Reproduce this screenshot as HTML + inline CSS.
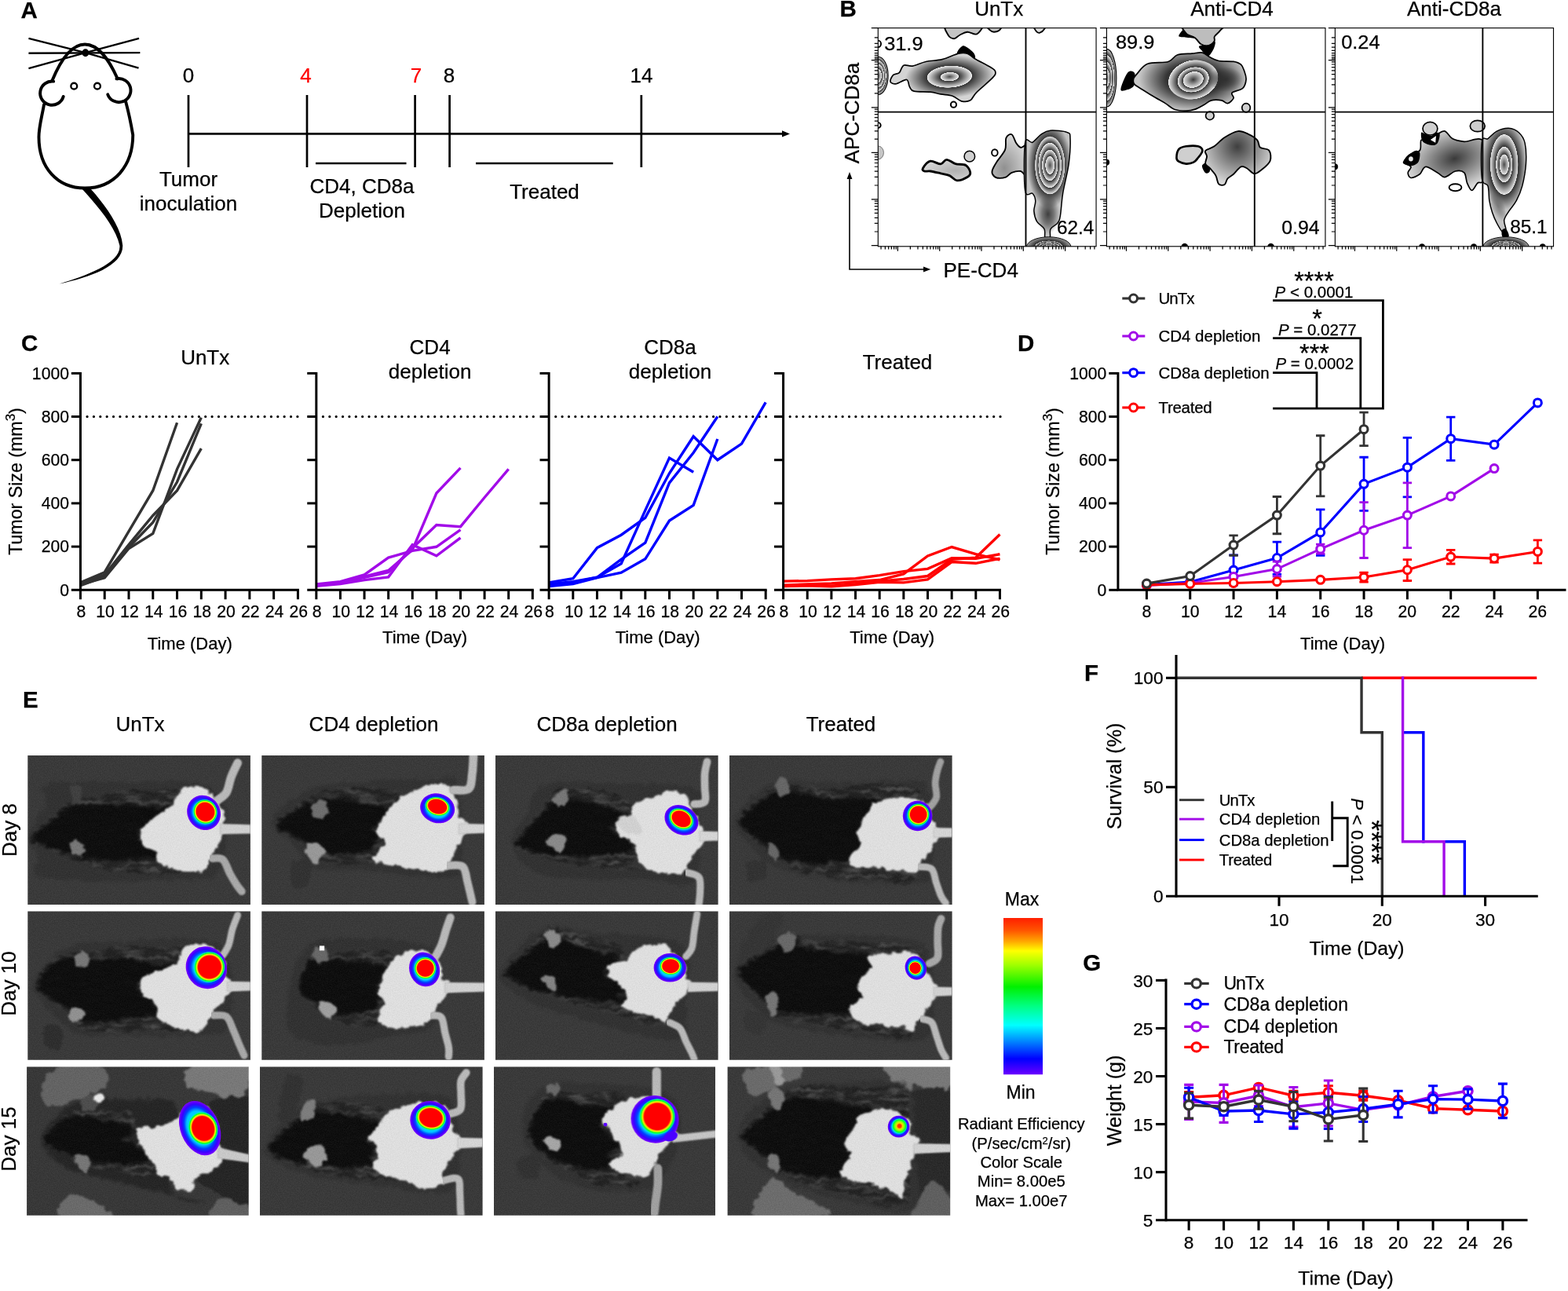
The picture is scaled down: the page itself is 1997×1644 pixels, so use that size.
<!DOCTYPE html>
<html lang="en">
<head>
<meta charset="utf-8">
<title>Figure</title>
<style>
html,body{margin:0;padding:0;background:#fff;}
body{width:1997px;height:1644px;overflow:hidden;font-family:"Liberation Sans",sans-serif;}
svg{display:block;position:absolute;left:0;top:0;}
text{font-family:"Liberation Sans",sans-serif;fill:#000;stroke:#000;stroke-width:0.25px;}
.b{font-weight:bold;}
.i{font-style:italic;}
.m{text-anchor:middle;}
.e{text-anchor:end;}
</style>
</head>
<body>
<svg width="1997" height="1644" viewBox="0 0 1997 1644">
<g id="panelA">
<text class="b" x="26.5" y="23" font-size="29.5">A</text>
<g transform="scale(0.2604)" fill="none" stroke="#000" stroke-linecap="round" stroke-linejoin="round">
<g stroke-width="9" stroke-linecap="butt"><path d="M140,188 L418,258 L678,333"/><path d="M140,335 L418,258 L680,188"/><path d="M140,260 L685,258"/></g>
<path stroke-width="15" d="M255,395 C300,285 350,217 415,217 C480,217 530,285 575,385"/>
<path stroke-width="15" d="M262,398 A58,58 0 1 0 310,472"/>
<path stroke-width="15" d="M570,385 A58,58 0 1 1 527,462"/>
<path stroke-width="15" d="M215,512 C205,570 190,620 190,670 C190,820 280,920 415,920 C560,920 650,810 650,660 C640,600 628,545 615,497"/>
<circle cx="362" cy="421" r="15" stroke-width="9"/><circle cx="476" cy="421" r="15" stroke-width="9"/>
<ellipse cx="418" cy="258" rx="17" ry="19" fill="#000" stroke="none"/>
<path fill="#000" stroke="none" d="M402,925 C480,1010 565,1110 585,1200 C595,1285 420,1350 290,1388 C440,1356 603,1300 600,1200 C592,1110 520,1010 442,922 Z"/>
</g>
<g stroke="#000" stroke-width="2.7" fill="none">
<path d="M240,170.4 H998"/>
<path d="M240,121 V213"/>
<path d="M391,121 V213"/>
<path d="M528.6,121 V213"/>
<path d="M572.6,121 V213"/>
<path d="M816.8,121 V213"/>
<path d="M402,208 H517.5"/><path d="M606,208 H780.7"/>
</g>
<path d="M996,166.2 L1006,170.4 L996,174.6 Z" fill="#000"/>
<text class="m" x="240" y="104.5" font-size="26">0</text>
<text class="m" x="389.5" y="104.5" font-size="26" style="fill:#ff0000;stroke:#ff0000">4</text>
<text class="m" x="530" y="104.5" font-size="26" style="fill:#ff0000;stroke:#ff0000">7</text>
<text class="m" x="572" y="104.5" font-size="26">8</text>
<text class="m" x="817" y="104.5" font-size="26">14</text>
<text class="m" x="240" y="236.5" font-size="26">Tumor</text>
<text class="m" x="240" y="267.5" font-size="26">inoculation</text>
<text class="m" x="461" y="245.5" font-size="26">CD4, CD8a</text>
<text class="m" x="461" y="277" font-size="26">Depletion</text>
<text class="m" x="693.5" y="252.5" font-size="26">Treated</text>
</g>
<g id="panelB">
<defs><radialGradient id="zb1" gradientUnits="userSpaceOnUse" cx="0" cy="0" r="1" gradientTransform="translate(97 405) rotate(0) scale(68 128)"><stop offset="0" stop-color="#4a4a4a"/><stop offset="0.338" stop-color="#e0e0e0"/><stop offset="0.35" stop-color="#f6f6f6"/><stop offset="0.362" stop-color="#363636"/><stop offset="0.588" stop-color="#e0e0e0"/><stop offset="0.6" stop-color="#f6f6f6"/><stop offset="0.612" stop-color="#363636"/><stop offset="0.788" stop-color="#e0e0e0"/><stop offset="0.8" stop-color="#f6f6f6"/><stop offset="0.812" stop-color="#363636"/><stop offset="1" stop-color="#d4d4d4"/></radialGradient><radialGradient id="zb2" gradientUnits="userSpaceOnUse" cx="0" cy="0" r="1" gradientTransform="translate(580 412) rotate(-3) scale(300 145)"><stop offset="0" stop-color="#4a4a4a"/><stop offset="0.188" stop-color="#e0e0e0"/><stop offset="0.2" stop-color="#f6f6f6"/><stop offset="0.212" stop-color="#363636"/><stop offset="0.488" stop-color="#e0e0e0"/><stop offset="0.5" stop-color="#f6f6f6"/><stop offset="0.512" stop-color="#363636"/><stop offset="1" stop-color="#d4d4d4"/></radialGradient><radialGradient id="zb3" gradientUnits="userSpaceOnUse" cx="0" cy="0" r="1" gradientTransform="translate(620 1045) rotate(0) scale(230 80)"><stop offset="0" stop-color="#b0b0b0"/><stop offset="1" stop-color="#d8d8d8"/></radialGradient><radialGradient id="zb4" gradientUnits="userSpaceOnUse" cx="0" cy="0" r="1" gradientTransform="translate(950 1030) rotate(0) scale(170 230)"><stop offset="0" stop-color="#909090"/><stop offset="1" stop-color="#d8d8d8"/></radialGradient><radialGradient id="zb5" gradientUnits="userSpaceOnUse" cx="0" cy="0" r="1" gradientTransform="translate(1255 1010) rotate(0) scale(150 290)"><stop offset="0" stop-color="#383838"/><stop offset="0.66" stop-color="#383838"/><stop offset="1" stop-color="#c4c4c4"/></radialGradient><radialGradient id="zb6" gradientUnits="userSpaceOnUse" cx="0" cy="0" r="1" gradientTransform="translate(1258 1010) rotate(0) scale(102 198)"><stop offset="0" stop-color="#505050"/><stop offset="0.288" stop-color="#e0e0e0"/><stop offset="0.3" stop-color="#f6f6f6"/><stop offset="0.312" stop-color="#363636"/><stop offset="0.508" stop-color="#e0e0e0"/><stop offset="0.52" stop-color="#f6f6f6"/><stop offset="0.532" stop-color="#363636"/><stop offset="0.748" stop-color="#e0e0e0"/><stop offset="0.76" stop-color="#f6f6f6"/><stop offset="0.772" stop-color="#363636"/><stop offset="0.973" stop-color="#e0e0e0"/><stop offset="0.985" stop-color="#f6f6f6"/><stop offset="0.997" stop-color="#363636"/><stop offset="1" stop-color="#383838"/></radialGradient><radialGradient id="fd7" gradientUnits="userSpaceOnUse" cx="0" cy="0" r="1" gradientTransform="translate(1245 1340) rotate(0) scale(78 135)"><stop offset="0" stop-color="#303030" stop-opacity="0.9"/><stop offset="0.5" stop-color="#303030" stop-opacity="0.54"/><stop offset="1" stop-color="#303030" stop-opacity="0"/></radialGradient><radialGradient id="zb8" gradientUnits="userSpaceOnUse" cx="0" cy="0" r="1" gradientTransform="translate(1250 1562) rotate(0) scale(150 68)"><stop offset="0" stop-color="#444"/><stop offset="0.188" stop-color="#b0b0b0"/><stop offset="0.2" stop-color="#f6f6f6"/><stop offset="0.212" stop-color="#2c2c2c"/><stop offset="0.328" stop-color="#b0b0b0"/><stop offset="0.34" stop-color="#f6f6f6"/><stop offset="0.352" stop-color="#2c2c2c"/><stop offset="0.468" stop-color="#b0b0b0"/><stop offset="0.48" stop-color="#f6f6f6"/><stop offset="0.492" stop-color="#2c2c2c"/><stop offset="0.608" stop-color="#b0b0b0"/><stop offset="0.62" stop-color="#f6f6f6"/><stop offset="0.632" stop-color="#2c2c2c"/><stop offset="1" stop-color="#999"/></radialGradient><radialGradient id="zb9" gradientUnits="userSpaceOnUse" cx="0" cy="0" r="1" gradientTransform="translate(103 420) rotate(0) scale(66 195)"><stop offset="0" stop-color="#4a4a4a"/><stop offset="0.288" stop-color="#e0e0e0"/><stop offset="0.3" stop-color="#f6f6f6"/><stop offset="0.312" stop-color="#363636"/><stop offset="0.538" stop-color="#e0e0e0"/><stop offset="0.55" stop-color="#f6f6f6"/><stop offset="0.562" stop-color="#363636"/><stop offset="0.768" stop-color="#e0e0e0"/><stop offset="0.78" stop-color="#f6f6f6"/><stop offset="0.792" stop-color="#363636"/><stop offset="1" stop-color="#d4d4d4"/></radialGradient><radialGradient id="zb10" gradientUnits="userSpaceOnUse" cx="0" cy="0" r="1" gradientTransform="translate(690 430) rotate(0) scale(370 215)"><stop offset="0" stop-color="#343434"/><stop offset="0.5" stop-color="#343434"/><stop offset="1" stop-color="#c8c8c8"/></radialGradient><radialGradient id="zb11" gradientUnits="userSpaceOnUse" cx="0" cy="0" r="1" gradientTransform="translate(688 432) rotate(-8) scale(172 132)"><stop offset="0" stop-color="#3a3a3a"/><stop offset="0.388" stop-color="#e0e0e0"/><stop offset="0.4" stop-color="#f6f6f6"/><stop offset="0.412" stop-color="#363636"/><stop offset="0.608" stop-color="#e0e0e0"/><stop offset="0.62" stop-color="#f6f6f6"/><stop offset="0.632" stop-color="#363636"/><stop offset="0.973" stop-color="#e0e0e0"/><stop offset="0.985" stop-color="#f6f6f6"/><stop offset="0.997" stop-color="#363636"/><stop offset="1" stop-color="#343434"/></radialGradient><radialGradient id="fd12" gradientUnits="userSpaceOnUse" cx="0" cy="0" r="1" gradientTransform="translate(905 430) rotate(0) scale(120 85)"><stop offset="0" stop-color="#2c2c2c" stop-opacity="0.9"/><stop offset="0.5" stop-color="#2c2c2c" stop-opacity="0.54"/><stop offset="1" stop-color="#2c2c2c" stop-opacity="0"/></radialGradient><radialGradient id="zb13" gradientUnits="userSpaceOnUse" cx="0" cy="0" r="1" gradientTransform="translate(985 885) rotate(0) scale(260 260)"><stop offset="0" stop-color="#3f3f3f"/><stop offset="1" stop-color="#d8d8d8"/></radialGradient><radialGradient id="zb14" gradientUnits="userSpaceOnUse" cx="0" cy="0" r="1" gradientTransform="translate(915 965) rotate(-15) scale(330 210)"><stop offset="0" stop-color="#3a3a3a"/><stop offset="1" stop-color="#d8d8d8"/></radialGradient><radialGradient id="zb15" gradientUnits="userSpaceOnUse" cx="0" cy="0" r="1" gradientTransform="translate(1250 1010) rotate(0) scale(150 300)"><stop offset="0" stop-color="#383838"/><stop offset="0.66" stop-color="#383838"/><stop offset="1" stop-color="#c4c4c4"/></radialGradient><radialGradient id="zb16" gradientUnits="userSpaceOnUse" cx="0" cy="0" r="1" gradientTransform="translate(1250 1005) rotate(0) scale(95 205)"><stop offset="0" stop-color="#4a4a4a"/><stop offset="0.318" stop-color="#e0e0e0"/><stop offset="0.33" stop-color="#f6f6f6"/><stop offset="0.342" stop-color="#363636"/><stop offset="0.568" stop-color="#e0e0e0"/><stop offset="0.58" stop-color="#f6f6f6"/><stop offset="0.592" stop-color="#363636"/><stop offset="0.973" stop-color="#e0e0e0"/><stop offset="0.985" stop-color="#f6f6f6"/><stop offset="0.997" stop-color="#363636"/><stop offset="1" stop-color="#383838"/></radialGradient><radialGradient id="fd17" gradientUnits="userSpaceOnUse" cx="0" cy="0" r="1" gradientTransform="translate(1210 1290) rotate(-12) scale(45 110)"><stop offset="0" stop-color="#505050" stop-opacity="0.6"/><stop offset="0.5" stop-color="#505050" stop-opacity="0.36"/><stop offset="1" stop-color="#505050" stop-opacity="0"/></radialGradient><radialGradient id="zb18" gradientUnits="userSpaceOnUse" cx="0" cy="0" r="1" gradientTransform="translate(1262 1562) rotate(0) scale(155 68)"><stop offset="0" stop-color="#444"/><stop offset="0.188" stop-color="#b0b0b0"/><stop offset="0.2" stop-color="#f6f6f6"/><stop offset="0.212" stop-color="#2c2c2c"/><stop offset="0.328" stop-color="#b0b0b0"/><stop offset="0.34" stop-color="#f6f6f6"/><stop offset="0.352" stop-color="#2c2c2c"/><stop offset="0.468" stop-color="#b0b0b0"/><stop offset="0.48" stop-color="#f6f6f6"/><stop offset="0.492" stop-color="#2c2c2c"/><stop offset="0.608" stop-color="#b0b0b0"/><stop offset="0.62" stop-color="#f6f6f6"/><stop offset="0.632" stop-color="#2c2c2c"/><stop offset="1" stop-color="#999"/></radialGradient></defs>
<g transform="translate(1100 20) scale(0.18857)">
<clipPath id="bc0"><rect x="97" y="83" width="1473" height="1475"/></clipPath>
<g clip-path="url(#bc0)">
<ellipse cx="97" cy="405" rx="68" ry="128" fill="url(#zb1)" stroke="#000" stroke-width="6"/>
<ellipse cx="97" cy="190" rx="20" ry="22" fill="#fff" stroke="#000" stroke-width="10"/>
<ellipse cx="97" cy="740" rx="18" ry="18" fill="#fff" stroke="#000" stroke-width="10"/>
<ellipse cx="97" cy="925" rx="38" ry="45" fill="#c8c8c8" stroke="#555" stroke-width="4"/>
<path d="M565,60 C526.67,71.67 562.5,114.17 570,130 C577.5,145.83 596.67,155 610,155 C623.33,155 635,137.5 650,130 C665,122.5 681.67,110.83 700,110 C718.33,109.17 743.33,129.5 760,125 C776.67,120.5 793.33,93.83 800,83 C806.67,72.17 839.17,63.83 800,60 C760.83,56.17 603.33,48.33 565,60Z" fill="#c4c4c4" stroke="#000" stroke-width="10" stroke-linejoin="round"/>
<path d="M830,60 C817.5,65.83 841.67,86.67 850,95 C858.33,103.33 868.33,110 880,110 C891.67,110 912.5,103.33 920,95 C927.5,86.67 940,65.83 925,60 C910,54.17 842.5,54.17 830,60Z" fill="#c4c4c4" stroke="#000" stroke-width="10" stroke-linejoin="round"/>
<path d="M1150,60 C1140,67.5 1158.33,95.83 1165,105 C1171.67,114.17 1180.83,117.5 1190,115 C1199.17,112.5 1214.17,99.17 1220,90 C1225.83,80.83 1236.67,65 1225,60 C1213.33,55 1160,52.5 1150,60Z" fill="#dddddd" stroke="#000" stroke-width="10" stroke-linejoin="round"/>
<path d="M630,260 C624.17,244.17 653.33,212.5 665,205 C676.67,197.5 686.67,206.67 700,215 C713.33,223.33 736.67,241.67 745,255 C753.33,268.33 757.5,287.5 750,295 C742.5,302.5 720,305.83 700,300 C680,294.17 635.83,275.83 630,260Z" fill="#000"/>
<path d="M180,445 C176.67,435 190,410 200,400 C210,390 228.33,395.83 240,385 C251.67,374.17 255,342.5 270,335 C285,327.5 305,344.17 330,340 C355,335.83 386.67,317.5 420,310 C453.33,302.5 493.33,304.17 530,295 C566.67,285.83 611.67,261.67 640,255 C668.33,248.33 681.67,249.17 700,255 C718.33,260.83 723.33,274.17 750,290 C776.67,305.83 836.67,335 860,350 C883.33,365 888.33,368.33 890,380 C891.67,391.67 891.67,396.67 870,420 C848.33,443.33 785,494.67 760,520 C735,545.33 736.67,562.5 720,572 C703.33,581.5 680,582 660,577 C640,572 623.33,549.83 600,542 C576.67,534.17 545,534.5 520,530 C495,525.5 480,518.33 450,515 C420,511.67 363.33,515.83 340,510 C316.67,504.17 318.33,493 310,480 C301.67,467 305,435.33 290,432 C275,428.67 238.33,457.83 220,460 C201.67,462.17 183.33,455 180,445Z" fill="url(#zb2)" stroke="#000" stroke-width="9" stroke-linejoin="round"/>
<ellipse cx="607" cy="600" rx="19" ry="19" fill="#fff" stroke="#000" stroke-width="11"/>
<path d="M400,1030 C406.67,1018.67 430,986.67 450,982 C470,977.33 501.67,1003.67 520,1002 C538.33,1000.33 543.33,972.33 560,972 C576.67,971.67 598.33,993.67 620,1000 C641.67,1006.33 673.33,1000 690,1010 C706.67,1020 718.33,1046.67 720,1060 C721.67,1073.33 715,1081.17 700,1090 C685,1098.83 650,1114.67 630,1113 C610,1111.33 598.33,1088 580,1080 C561.67,1072 541.67,1070 520,1065 C498.33,1060 468.33,1052.5 450,1050 C431.67,1047.5 418.33,1053.33 410,1050 C401.67,1046.67 393.33,1041.33 400,1030Z" fill="url(#zb3)" stroke="#000" stroke-width="15" stroke-linejoin="round"/>
<ellipse cx="715" cy="950" rx="36" ry="36" fill="#d0d0d0" stroke="#000" stroke-width="8"/>
<ellipse cx="885" cy="925" rx="20" ry="22" fill="#fff" stroke="#000" stroke-width="10"/>
<path d="M870,1040 C875,1025.83 885.83,1007.5 900,985 C914.17,962.5 944.67,931.67 955,905 C965.33,878.33 954.5,842.17 962,825 C969.5,807.83 988.67,796.17 1000,802 C1011.33,807.83 1020,845.33 1030,860 C1040,874.67 1048.33,885 1060,890 C1071.67,895 1093.33,860 1100,890 C1106.67,920 1106.67,1043.33 1100,1070 C1093.33,1096.67 1076.67,1051.67 1060,1050 C1043.33,1048.33 1016.67,1053.33 1000,1060 C983.33,1066.67 976.67,1084.17 960,1090 C943.33,1095.83 915,1098.33 900,1095 C885,1091.67 875,1079.17 870,1070 C865,1060.83 865,1054.17 870,1040Z" fill="url(#zb4)" stroke="#000" stroke-width="10" stroke-linejoin="round"/>
<path d="M1090,860 C1098.33,805.83 1121.67,865 1140,855 C1158.33,845 1180,813.33 1200,800 C1220,786.67 1230.83,777 1260,775 C1289.17,773 1352.5,778.83 1375,788 C1397.5,797.17 1393.33,794.67 1395,830 C1396.67,865.33 1393.33,938.33 1385,1000 C1376.67,1061.67 1354.5,1141.67 1345,1200 C1335.5,1258.33 1333.83,1316.67 1328,1350 C1322.17,1383.33 1321,1385 1310,1400 C1299,1415 1270.67,1423.33 1262,1440 C1253.33,1456.67 1264.17,1490 1258,1500 C1251.83,1510 1231.33,1510 1225,1500 C1218.67,1490 1229.17,1458.33 1220,1440 C1210.83,1421.67 1181.67,1410 1170,1390 C1158.33,1370 1151.67,1343.33 1150,1320 C1148.33,1296.67 1161.67,1270 1160,1250 C1158.33,1230 1151.67,1211.67 1140,1200 C1128.33,1188.33 1098.33,1236.67 1090,1180 C1081.67,1123.33 1081.67,914.17 1090,860Z" fill="url(#zb5)" stroke="#000" stroke-width="8" stroke-linejoin="round"/>
<ellipse cx="1258" cy="1010" rx="102" ry="195" fill="url(#zb6)"/>
<ellipse cx="1245" cy="1340" rx="78" ry="135" fill="url(#fd7)" transform="rotate(0 1245 1340)"/>
<ellipse cx="1250" cy="1562" rx="150" ry="68" fill="url(#zb8)" stroke="#000" stroke-width="5"/>
</g>
<rect x="97" y="83" width="1473" height="1475" fill="none" stroke="#000" stroke-width="6"/>
<path d="M1095,83 V1558 M97,650 H1570" stroke="#000" stroke-width="10" fill="none"/>
<path d="M97,83 h-45 M97,148.1 h-24 M97,187.16 h-24 M97,213.2 h-24 M97,234.9 h-24 M97,252.26 h-24 M97,267.45 h-24 M97,280.47 h-24 M97,291.32 h-24 M97,300 h-45 M97,524 h-24 M97,466.4 h-24 M97,428 h-24 M97,396 h-24 M97,370.4 h-24 M97,348 h-24 M97,328.8 h-24 M97,312.8 h-24 M97,620 h-45 M97,833.5 h-24 M97,778.6 h-24 M97,742 h-24 M97,711.5 h-24 M97,687.1 h-24 M97,665.75 h-24 M97,647.45 h-24 M97,632.2 h-24 M97,925 h-45 M97,1145.5 h-24 M97,1088.8 h-24 M97,1051 h-24 M97,1019.5 h-24 M97,994.3 h-24 M97,972.25 h-24 M97,953.35 h-24 M97,937.6 h-24 M97,1240 h-45 M97,1458.4 h-24 M97,1402.24 h-24 M97,1364.8 h-24 M97,1333.6 h-24 M97,1308.64 h-24 M97,1286.8 h-24 M97,1268.08 h-24 M97,1252.48 h-24 M97,1552 h-45 M230,1558 v32 M116.92,1558 v20 M145.19,1558 v20 M167.81,1558 v20 M187.59,1558 v20 M204.56,1558 v20 M218.69,1558 v20 M512.7,1558 v32 M314.81,1558 v20 M365.7,1558 v20 M399.62,1558 v20 M427.89,1558 v20 M450.51,1558 v20 M470.3,1558 v20 M487.26,1558 v20 M501.39,1558 v20 M795.4,1558 v32 M597.51,1558 v20 M648.4,1558 v20 M682.32,1558 v20 M710.59,1558 v20 M733.21,1558 v20 M753,1558 v20 M769.96,1558 v20 M784.09,1558 v20 M1078.1,1558 v32 M880.21,1558 v20 M931.1,1558 v20 M965.02,1558 v20 M993.29,1558 v20 M1015.91,1558 v20 M1035.69,1558 v20 M1052.66,1558 v20 M1066.79,1558 v20 M1360.8,1558 v32 M1162.91,1558 v20 M1213.8,1558 v20 M1247.72,1558 v20 M1275.99,1558 v20 M1298.61,1558 v20 M1318.39,1558 v20 M1335.36,1558 v20 M1349.49,1558 v20 M1445.61,1558 v20 M1496.5,1558 v20 M1530.42,1558 v20 M1558.69,1558 v20" stroke="#000" stroke-width="6.5" fill="none"/>
</g>
<g transform="translate(1390 20) scale(0.18857)">
<clipPath id="bc1"><rect x="103" y="83" width="1477" height="1475"/></clipPath>
<g clip-path="url(#bc1)">
<ellipse cx="103" cy="420" rx="66" ry="195" fill="url(#zb9)" stroke="#000" stroke-width="6"/>
<ellipse cx="103" cy="990" rx="18" ry="20" fill="#000" stroke="#000" stroke-width="4"/>
<path d="M590,135 C591.67,125 620.83,87.5 630,85 C639.17,82.5 633.33,109.17 645,120 C656.67,130.83 704.17,145.83 700,150 C695.83,154.17 638.33,147.5 620,145 C601.67,142.5 588.33,145 590,135Z" fill="#000"/>
<path d="M630,60 C590,70 628.33,105 640,120 C651.67,135 683.33,138 700,150 C716.67,162 725,183.33 740,192 C755,200.67 775,205.33 790,202 C805,198.67 823,182.33 830,172 C837,161.67 825.33,152 832,140 C838.67,128 862,113.33 870,100 C878,86.67 920,66.67 880,60 C840,53.33 670,50 630,60Z" fill="#bdbdbd" stroke="#000" stroke-width="10" stroke-linejoin="round"/>
<path d="M728,205 C735.5,198.83 772.17,203 790,198 C807.83,193 829.17,170.5 835,175 C840.83,179.5 833.33,208.33 825,225 C816.67,241.67 798.33,273.33 785,275 C771.67,276.67 754.5,246.67 745,235 C735.5,223.33 720.5,211.17 728,205Z" fill="#000"/>
<path d="M198,497 C198.83,477.83 229.33,403.17 245,385 C260.67,366.83 284.83,373.83 292,388 C299.17,402.17 296.67,451.33 288,470 C279.33,488.67 255,495.5 240,500 C225,504.5 197.17,516.17 198,497Z" fill="#000"/>
<path d="M285,425 C288.33,413 294.17,406.67 310,390 C325.83,373.33 345,338.33 380,325 C415,311.67 486.67,320 520,310 C553.33,300 553.33,274.17 580,265 C606.67,255.83 651.67,257.5 680,255 C708.33,252.5 730,245.83 750,250 C770,254.17 781.67,270.83 800,280 C818.33,289.17 833.33,300 860,305 C886.67,310 935,305.83 960,310 C985,314.17 998,319.67 1010,330 C1022,340.33 1026.17,355.33 1032,372 C1037.83,388.67 1046.67,410.33 1045,430 C1043.33,449.67 1037.83,475 1022,490 C1006.17,505 960.33,508.83 950,520 C939.67,531.17 965,545 960,557 C955,569 933.33,589.5 920,592 C906.67,594.5 898.33,575.33 880,572 C861.67,568.67 830,567 810,572 C790,577 778.33,592 760,602 C741.67,612 720,625.33 700,632 C680,638.67 663.33,642 640,642 C616.67,642 583.33,640.33 560,632 C536.67,623.67 521.67,605.33 500,592 C478.33,578.67 455,567 430,552 C405,537 373.33,517 350,502 C326.67,487 300.83,474.83 290,462 C279.17,449.17 281.67,437 285,425Z" fill="url(#zb10)" stroke="#000" stroke-width="9" stroke-linejoin="round"/>
<ellipse cx="688" cy="432" rx="172" ry="132" fill="url(#zb11)" transform="rotate(-8 688 432)"/>
<ellipse cx="905" cy="430" rx="120" ry="85" fill="url(#fd12)" transform="rotate(0 905 430)"/>
<ellipse cx="800" cy="675" rx="28" ry="28" fill="#d0d0d0" stroke="#000" stroke-width="9"/>
<ellipse cx="1045" cy="622" rx="28" ry="30" fill="#d0d0d0" stroke="#000" stroke-width="9"/>
<path d="M575,960 C575,946.17 579.17,915 590,902 C600.83,889 618.33,885.33 640,882 C661.67,878.67 701.67,877 720,882 C738.33,887 750,899 750,912 C750,925 730,947 720,960 C710,973 703.33,983.33 690,990 C676.67,996.67 656.67,1000.83 640,1000 C623.33,999.17 600.83,991.67 590,985 C579.17,978.33 575,973.83 575,960Z" fill="#cfcfcf" stroke="#000" stroke-width="14" stroke-linejoin="round"/>
<path d="M748,1012 C751.33,1000.33 781.33,985.67 790,992 C798.67,998.33 803.33,1038.33 800,1050 C796.67,1061.67 778.67,1068.33 770,1062 C761.33,1055.67 744.67,1023.67 748,1012Z" fill="#000"/>
<path d="M770,912 C778.33,900.67 808.33,897 830,882 C851.67,867 873.33,839 900,822 C926.67,805 963.33,783.67 990,780 C1016.67,776.33 1038.33,790 1060,800 C1081.67,810 1106.67,825 1120,840 C1133.33,855 1126.67,878.33 1140,890 C1153.33,901.67 1188.83,895 1200,910 C1211.17,925 1215.33,958.33 1207,980 C1198.67,1001.67 1167.83,1025.5 1150,1040 C1132.17,1054.5 1116.67,1068.67 1100,1067 C1083.33,1065.33 1065,1037.83 1050,1030 C1035,1022.17 1025,1013.33 1010,1020 C995,1026.67 975,1056.67 960,1070 C945,1083.33 930,1088.33 920,1100 C910,1111.67 910,1133.83 900,1140 C890,1146.17 870,1147 860,1137 C850,1127 850,1097.83 840,1080 C830,1062.17 811.67,1043.33 800,1030 C788.33,1016.67 773.33,1013.33 770,1000 C766.67,986.67 780,964.67 780,950 C780,935.33 761.67,923.33 770,912Z" fill="url(#zb13)" stroke="#000" stroke-width="10" stroke-linejoin="round"/>
<ellipse cx="630" cy="1560" rx="22" ry="22" fill="#000" stroke="#000" stroke-width="2"/>
<ellipse cx="1212" cy="1560" rx="22" ry="22" fill="#000" stroke="#000" stroke-width="2"/>
</g>
<rect x="103" y="83" width="1477" height="1475" fill="none" stroke="#000" stroke-width="6"/>
<path d="M1102,83 V1558 M103,650 H1580" stroke="#000" stroke-width="10" fill="none"/>
<path d="M103,83 h-45 M103,148.1 h-24 M103,187.16 h-24 M103,213.2 h-24 M103,234.9 h-24 M103,252.26 h-24 M103,267.45 h-24 M103,280.47 h-24 M103,291.32 h-24 M103,300 h-45 M103,524 h-24 M103,466.4 h-24 M103,428 h-24 M103,396 h-24 M103,370.4 h-24 M103,348 h-24 M103,328.8 h-24 M103,312.8 h-24 M103,620 h-45 M103,833.5 h-24 M103,778.6 h-24 M103,742 h-24 M103,711.5 h-24 M103,687.1 h-24 M103,665.75 h-24 M103,647.45 h-24 M103,632.2 h-24 M103,925 h-45 M103,1145.5 h-24 M103,1088.8 h-24 M103,1051 h-24 M103,1019.5 h-24 M103,994.3 h-24 M103,972.25 h-24 M103,953.35 h-24 M103,937.6 h-24 M103,1240 h-45 M103,1458.4 h-24 M103,1402.24 h-24 M103,1364.8 h-24 M103,1333.6 h-24 M103,1308.64 h-24 M103,1286.8 h-24 M103,1268.08 h-24 M103,1252.48 h-24 M103,1552 h-45 M236,1558 v32 M122.92,1558 v20 M151.19,1558 v20 M173.81,1558 v20 M193.59,1558 v20 M210.56,1558 v20 M224.69,1558 v20 M518.7,1558 v32 M320.81,1558 v20 M371.7,1558 v20 M405.62,1558 v20 M433.89,1558 v20 M456.51,1558 v20 M476.3,1558 v20 M493.26,1558 v20 M507.39,1558 v20 M801.4,1558 v32 M603.51,1558 v20 M654.4,1558 v20 M688.32,1558 v20 M716.59,1558 v20 M739.21,1558 v20 M759,1558 v20 M775.96,1558 v20 M790.09,1558 v20 M1084.1,1558 v32 M886.21,1558 v20 M937.1,1558 v20 M971.02,1558 v20 M999.29,1558 v20 M1021.91,1558 v20 M1041.69,1558 v20 M1058.66,1558 v20 M1072.79,1558 v20 M1366.8,1558 v32 M1168.91,1558 v20 M1219.8,1558 v20 M1253.72,1558 v20 M1281.99,1558 v20 M1304.61,1558 v20 M1324.39,1558 v20 M1341.36,1558 v20 M1355.49,1558 v20 M1451.61,1558 v20 M1502.5,1558 v20 M1536.42,1558 v20 M1564.69,1558 v20" stroke="#000" stroke-width="6.5" fill="none"/>
</g>
<g transform="translate(1680 20) scale(0.18857)">
<clipPath id="bc2"><rect x="108" y="83" width="1475" height="1475"/></clipPath>
<g clip-path="url(#bc2)">
<ellipse cx="108" cy="1020" rx="18" ry="20" fill="#000" stroke="#000" stroke-width="4"/>
<path d="M575,990 C573.33,976.67 592.5,953.33 610,940 C627.5,926.67 666.67,926.67 680,910 C693.33,893.33 680,850 690,840 C700,830 721.67,856.67 740,850 C758.33,843.33 781.67,811.67 800,800 C818.33,788.33 833.33,775 850,780 C866.67,785 878.33,818.33 900,830 C921.67,841.67 945,846.67 980,850 C1015,853.33 1088.33,808.33 1110,850 C1131.67,891.67 1116.67,1053.33 1110,1100 C1103.33,1146.67 1083,1116.67 1070,1130 C1057,1143.33 1043.67,1180 1032,1180 C1020.33,1180 1008.67,1150 1000,1130 C991.33,1110 993.33,1073.33 980,1060 C966.67,1046.67 941.67,1045 920,1050 C898.33,1055 870,1088.33 850,1090 C830,1091.67 821.67,1071.67 800,1060 C778.33,1048.33 740,1018.33 720,1020 C700,1021.67 696.67,1057.5 680,1070 C663.33,1082.5 633.33,1096.67 620,1095 C606.67,1093.33 600,1072.5 600,1060 C600,1047.5 624.17,1031.67 620,1020 C615.83,1008.33 576.67,1003.33 575,990Z" fill="url(#zb14)" stroke="#000" stroke-width="9" stroke-linejoin="round"/>
<path d="M566,992 C565.17,980.83 586,958.33 600,945 C614,931.67 636.67,915.33 650,912 C663.33,908.67 676.33,912.83 680,925 C683.67,937.17 678.67,970.83 672,985 C665.33,999.17 651.17,1005.5 640,1010 C628.83,1014.5 617.33,1015 605,1012 C592.67,1009 566.83,1003.17 566,992Z" fill="#000"/>
<ellipse cx="620" cy="967" rx="15" ry="17" fill="#e8e8e8" stroke="#000" stroke-width="0"/>
<path d="M690,790 C686.67,798.33 688.33,835.83 700,850 C711.67,864.17 743.33,873.33 760,875 C776.67,876.67 790.83,872.5 800,860 C809.17,847.5 816.67,811.67 815,800 C813.33,788.33 799.17,788.33 790,790 C780.83,791.67 771.67,808.33 760,810 C748.33,811.67 731.67,803.33 720,800 C708.33,796.67 693.33,781.67 690,790Z" fill="#000"/>
<ellipse cx="750" cy="762" rx="50" ry="44" fill="#cfcfcf" stroke="#000" stroke-width="9"/>
<path d="M752,838 L790,812 L786,858 Z" fill="#fff"/>
<ellipse cx="1070" cy="745" rx="50" ry="38" fill="#cccccc" stroke="#000" stroke-width="9"/>
<ellipse cx="920" cy="1160" rx="42" ry="24" fill="#fff" stroke="#000" stroke-width="10"/>
<path d="M1100,850 C1106.67,805 1123.33,841.67 1140,830 C1156.67,818.33 1176.67,791.67 1200,780 C1223.33,768.33 1255,758.33 1280,760 C1305,761.67 1331.67,773.33 1350,790 C1368.33,806.67 1382.17,825 1390,860 C1397.83,895 1400,951.67 1397,1000 C1394,1048.33 1382.83,1108.33 1372,1150 C1361.17,1191.67 1347,1221.67 1332,1250 C1317,1278.33 1295.67,1298.33 1282,1320 C1268.33,1341.67 1253.33,1359.17 1250,1380 C1246.67,1400.83 1263.67,1431.33 1262,1445 C1260.33,1458.67 1250.33,1469.5 1240,1462 C1229.67,1454.5 1211.67,1422 1200,1400 C1188.33,1378 1178.33,1355 1170,1330 C1161.67,1305 1155,1280 1150,1250 C1145,1220 1148.33,1175 1140,1150 C1131.67,1125 1106.67,1150 1100,1100 C1093.33,1050 1093.33,895 1100,850Z" fill="url(#zb15)" stroke="#000" stroke-width="8" stroke-linejoin="round"/>
<ellipse cx="1250" cy="1005" rx="95" ry="205" fill="url(#zb16)"/>
<ellipse cx="1210" cy="1290" rx="45" ry="110" fill="url(#fd17)" transform="rotate(-12 1210 1290)"/>
<path d="M1235,1450 C1238.67,1440.83 1254.17,1433.33 1262,1440 C1269.83,1446.67 1285.67,1480.83 1282,1490 C1278.33,1499.17 1247.83,1501.67 1240,1495 C1232.17,1488.33 1231.33,1459.17 1235,1450Z" fill="#000"/>
<ellipse cx="1262" cy="1562" rx="155" ry="68" fill="url(#zb18)" stroke="#000" stroke-width="5"/>
<ellipse cx="695" cy="1560" rx="20" ry="20" fill="#000" stroke="#000" stroke-width="2"/>
<ellipse cx="1045" cy="1560" rx="20" ry="20" fill="#000" stroke="#000" stroke-width="2"/>
<ellipse cx="1510" cy="1560" rx="20" ry="20" fill="#000" stroke="#000" stroke-width="2"/>
</g>
<rect x="108" y="83" width="1475" height="1475" fill="none" stroke="#000" stroke-width="6"/>
<path d="M1105,83 V1558 M108,650 H1583" stroke="#000" stroke-width="10" fill="none"/>
<path d="M108,83 h-45 M108,148.1 h-24 M108,187.16 h-24 M108,213.2 h-24 M108,234.9 h-24 M108,252.26 h-24 M108,267.45 h-24 M108,280.47 h-24 M108,291.32 h-24 M108,300 h-45 M108,524 h-24 M108,466.4 h-24 M108,428 h-24 M108,396 h-24 M108,370.4 h-24 M108,348 h-24 M108,328.8 h-24 M108,312.8 h-24 M108,620 h-45 M108,833.5 h-24 M108,778.6 h-24 M108,742 h-24 M108,711.5 h-24 M108,687.1 h-24 M108,665.75 h-24 M108,647.45 h-24 M108,632.2 h-24 M108,925 h-45 M108,1145.5 h-24 M108,1088.8 h-24 M108,1051 h-24 M108,1019.5 h-24 M108,994.3 h-24 M108,972.25 h-24 M108,953.35 h-24 M108,937.6 h-24 M108,1240 h-45 M108,1458.4 h-24 M108,1402.24 h-24 M108,1364.8 h-24 M108,1333.6 h-24 M108,1308.64 h-24 M108,1286.8 h-24 M108,1268.08 h-24 M108,1252.48 h-24 M108,1552 h-45 M241,1558 v32 M127.92,1558 v20 M156.19,1558 v20 M178.81,1558 v20 M198.59,1558 v20 M215.56,1558 v20 M229.69,1558 v20 M523.7,1558 v32 M325.81,1558 v20 M376.7,1558 v20 M410.62,1558 v20 M438.89,1558 v20 M461.51,1558 v20 M481.3,1558 v20 M498.26,1558 v20 M512.39,1558 v20 M806.4,1558 v32 M608.51,1558 v20 M659.4,1558 v20 M693.32,1558 v20 M721.59,1558 v20 M744.21,1558 v20 M764,1558 v20 M780.96,1558 v20 M795.09,1558 v20 M1089.1,1558 v32 M891.21,1558 v20 M942.1,1558 v20 M976.02,1558 v20 M1004.29,1558 v20 M1026.91,1558 v20 M1046.69,1558 v20 M1063.66,1558 v20 M1077.79,1558 v20 M1371.8,1558 v32 M1173.91,1558 v20 M1224.8,1558 v20 M1258.72,1558 v20 M1286.99,1558 v20 M1309.61,1558 v20 M1329.39,1558 v20 M1346.36,1558 v20 M1360.49,1558 v20 M1456.61,1558 v20 M1507.5,1558 v20 M1541.42,1558 v20 M1569.69,1558 v20" stroke="#000" stroke-width="6.5" fill="none"/>
</g>
<text x="1126.2" y="64.3" font-size="23" textLength="49.3" lengthAdjust="spacingAndGlyphs">31.9</text>
<text x="1346" y="298.1" font-size="23" textLength="47.3" lengthAdjust="spacingAndGlyphs">62.4</text>
<text x="1421" y="61.5" font-size="23" textLength="49.3" lengthAdjust="spacingAndGlyphs">89.9</text>
<text x="1632.2" y="298.1" font-size="23" textLength="48.3" lengthAdjust="spacingAndGlyphs">0.94</text>
<text x="1708.2" y="61.5" font-size="23" textLength="49.3" lengthAdjust="spacingAndGlyphs">0.24</text>
<text x="1923.2" y="297.3" font-size="23" textLength="47.3" lengthAdjust="spacingAndGlyphs">85.1</text>
<text class="b" x="1069.5" y="21.3" font-size="29.5">B</text>
<text class="m" x="1272.2" y="19.5" font-size="26">UnTx</text>
<text class="m" x="1569" y="19.5" font-size="26">Anti-CD4</text>
<text class="m" x="1852" y="19.5" font-size="26">Anti-CD8a</text>
<text class="m" x="1093.8" y="144" font-size="26" transform="rotate(-90 1093.8 144)">APC-CD8a</text>
<text x="1201.5" y="353" font-size="26">PE-CD4</text>
<path d="M1082,226 V343 H1178" fill="none" stroke="#000" stroke-width="1.6"/>
<path d="M1078.6,228 L1082,219 L1085.4,228 Z M1176,339.6 L1185.3,343 L1176,346.4 Z" fill="#000"/>
</g>
<g id="panelC">
<text class="b" x="27" y="447" font-size="29.5">C</text>
<path d="M111.06,530.56 H379.4" stroke="#000" stroke-width="3.3" stroke-linecap="round" stroke-dasharray="0 8.37" fill="none"/>
<path d="M102.46,741.84 L133.23,728.7 L164.01,676.6 L194.78,624.71 L225.55,538.23" fill="none" stroke="#333333" stroke-width="3.4" stroke-linejoin="miter"/>
<path d="M102.46,744.47 L133.23,735.71 L164.01,698.49 L194.78,679.44 L225.55,597.34 L256.32,531.66" fill="none" stroke="#333333" stroke-width="3.4" stroke-linejoin="miter"/>
<path d="M102.46,745.56 L133.23,734.4 L164.01,696.96 L194.78,665.21 L225.55,613.76 L256.32,539.32" fill="none" stroke="#333333" stroke-width="3.4" stroke-linejoin="miter"/>
<path d="M102.46,743.15 L133.23,731.99 L164.01,693.67 L194.78,656.45 L225.55,624.71 L256.32,571.07" fill="none" stroke="#333333" stroke-width="3.4" stroke-linejoin="miter"/>
<path d="M102.46,475.47 V751.25 H379.41" fill="none" stroke="#000" stroke-width="3.0" stroke-linecap="square"/>
<path d="M90.86,751.25 L102.46,751.25" stroke="#000" stroke-width="3.0"/>
<text class="e" x="88" y="758.55" font-size="21.2">0</text>
<path d="M90.86,696.08 L102.46,696.08" stroke="#000" stroke-width="3.0"/>
<text class="e" x="88" y="703.38" font-size="21.2">200</text>
<path d="M90.86,640.91 L102.46,640.91" stroke="#000" stroke-width="3.0"/>
<text class="e" x="88" y="648.21" font-size="21.2">400</text>
<path d="M90.86,585.74 L102.46,585.74" stroke="#000" stroke-width="3.0"/>
<text class="e" x="88" y="593.04" font-size="21.2">600</text>
<path d="M90.86,530.56 L102.46,530.56" stroke="#000" stroke-width="3.0"/>
<text class="e" x="88" y="537.86" font-size="21.2">800</text>
<path d="M90.86,475.39 L102.46,475.39" stroke="#000" stroke-width="3.0"/>
<text class="e" x="88" y="482.69" font-size="21.2">1000</text>
<path d="M102.46,751.25 L102.46,763.25" stroke="#000" stroke-width="3.0"/>
<text class="m" x="103.36" y="786" font-size="21.2">8</text>
<path d="M133.23,751.25 L133.23,763.25" stroke="#000" stroke-width="3.0"/>
<text class="m" x="134.13" y="786" font-size="21.2">10</text>
<path d="M164.01,751.25 L164.01,763.25" stroke="#000" stroke-width="3.0"/>
<text class="m" x="164.91" y="786" font-size="21.2">12</text>
<path d="M194.78,751.25 L194.78,763.25" stroke="#000" stroke-width="3.0"/>
<text class="m" x="195.68" y="786" font-size="21.2">14</text>
<path d="M225.55,751.25 L225.55,763.25" stroke="#000" stroke-width="3.0"/>
<text class="m" x="226.45" y="786" font-size="21.2">16</text>
<path d="M256.32,751.25 L256.32,763.25" stroke="#000" stroke-width="3.0"/>
<text class="m" x="257.22" y="786" font-size="21.2">18</text>
<path d="M287.09,751.25 L287.09,763.25" stroke="#000" stroke-width="3.0"/>
<text class="m" x="287.99" y="786" font-size="21.2">20</text>
<path d="M317.87,751.25 L317.87,763.25" stroke="#000" stroke-width="3.0"/>
<text class="m" x="318.77" y="786" font-size="21.2">22</text>
<path d="M348.64,751.25 L348.64,763.25" stroke="#000" stroke-width="3.0"/>
<text class="m" x="349.54" y="786" font-size="21.2">24</text>
<path d="M379.41,751.25 L379.41,763.25" stroke="#000" stroke-width="3.0"/>
<text class="m" x="380.31" y="786" font-size="21.2">26</text>
<path d="M411.44,530.56 H679.78" stroke="#000" stroke-width="3.3" stroke-linecap="round" stroke-dasharray="0 8.37" fill="none"/>
<path d="M402.84,744.03 L433.44,740.74 L464.05,731.99 L494.66,710.09 L525.27,701.34 L555.87,696.3 L586.48,674.63" fill="none" stroke="#a20be8" stroke-width="3.4" stroke-linejoin="miter"/>
<path d="M402.84,746.22 L433.44,743.59 L464.05,738.56 L494.66,734.83 L525.27,693.67 L555.87,707.9 L586.48,684.92" fill="none" stroke="#a20be8" stroke-width="3.4" stroke-linejoin="miter"/>
<path d="M402.84,745.12 L433.44,741.84 L464.05,734.18 L494.66,726.51 L525.27,700.24 L555.87,627.99 L586.48,595.81" fill="none" stroke="#a20be8" stroke-width="3.4" stroke-linejoin="miter"/>
<path d="M402.84,745.56 L433.44,742.28 L464.05,735.27 L494.66,728.7 L525.27,698.05 L555.87,668.49 L586.48,670.68 L617.09,633.46 L647.7,597.34" fill="none" stroke="#a20be8" stroke-width="3.4" stroke-linejoin="miter"/>
<path d="M402.84,475.47 V751.25 H678.3" fill="none" stroke="#000" stroke-width="3.0" stroke-linecap="square"/>
<path d="M391.24,751.25 L402.84,751.25" stroke="#000" stroke-width="3.0"/>
<path d="M391.24,696.08 L402.84,696.08" stroke="#000" stroke-width="3.0"/>
<path d="M391.24,640.91 L402.84,640.91" stroke="#000" stroke-width="3.0"/>
<path d="M391.24,585.74 L402.84,585.74" stroke="#000" stroke-width="3.0"/>
<path d="M391.24,530.56 L402.84,530.56" stroke="#000" stroke-width="3.0"/>
<path d="M391.24,475.39 L402.84,475.39" stroke="#000" stroke-width="3.0"/>
<path d="M402.84,751.25 L402.84,763.25" stroke="#000" stroke-width="3.0"/>
<text class="m" x="403.74" y="786" font-size="21.2">8</text>
<path d="M433.44,751.25 L433.44,763.25" stroke="#000" stroke-width="3.0"/>
<text class="m" x="434.34" y="786" font-size="21.2">10</text>
<path d="M464.05,751.25 L464.05,763.25" stroke="#000" stroke-width="3.0"/>
<text class="m" x="464.95" y="786" font-size="21.2">12</text>
<path d="M494.66,751.25 L494.66,763.25" stroke="#000" stroke-width="3.0"/>
<text class="m" x="495.56" y="786" font-size="21.2">14</text>
<path d="M525.27,751.25 L525.27,763.25" stroke="#000" stroke-width="3.0"/>
<text class="m" x="526.17" y="786" font-size="21.2">16</text>
<path d="M555.87,751.25 L555.87,763.25" stroke="#000" stroke-width="3.0"/>
<text class="m" x="556.77" y="786" font-size="21.2">18</text>
<path d="M586.48,751.25 L586.48,763.25" stroke="#000" stroke-width="3.0"/>
<text class="m" x="587.38" y="786" font-size="21.2">20</text>
<path d="M617.09,751.25 L617.09,763.25" stroke="#000" stroke-width="3.0"/>
<text class="m" x="617.99" y="786" font-size="21.2">22</text>
<path d="M647.7,751.25 L647.7,763.25" stroke="#000" stroke-width="3.0"/>
<text class="m" x="648.6" y="786" font-size="21.2">24</text>
<path d="M678.3,751.25 L678.3,763.25" stroke="#000" stroke-width="3.0"/>
<text class="m" x="679.2" y="786" font-size="21.2">26</text>
<path d="M707.71,530.56 H976.05" stroke="#000" stroke-width="3.3" stroke-linecap="round" stroke-dasharray="0 8.37" fill="none"/>
<path d="M699.11,741.84 L729.79,736.8 L760.46,697.61 L791.13,681.19 L821.81,659.3 L852.48,602.81 L883.15,555.74 L913.83,585.74 L944.5,565.16 L975.17,512.39" fill="none" stroke="#0000ff" stroke-width="3.4" stroke-linejoin="miter"/>
<path d="M699.11,745.12 L729.79,741.84 L760.46,735.27 L791.13,717.76 L821.81,649.89 L852.48,583.11 L883.15,601.28" fill="none" stroke="#0000ff" stroke-width="3.4" stroke-linejoin="miter"/>
<path d="M699.11,744.03 L729.79,740.74 L760.46,735.27 L791.13,712.28 L821.81,691.05 L852.48,614.85 L883.15,576.54 L913.83,530.56" fill="none" stroke="#0000ff" stroke-width="3.4" stroke-linejoin="miter"/>
<path d="M699.11,746.66 L729.79,743.59 L760.46,735.71 L791.13,729.14 L821.81,711.84 L852.48,663.02 L883.15,643.32 L913.83,559.03" fill="none" stroke="#0000ff" stroke-width="3.4" stroke-linejoin="miter"/>
<path d="M699.11,475.47 V751.25 H975.17" fill="none" stroke="#000" stroke-width="3.0" stroke-linecap="square"/>
<path d="M687.51,751.25 L699.11,751.25" stroke="#000" stroke-width="3.0"/>
<path d="M687.51,696.08 L699.11,696.08" stroke="#000" stroke-width="3.0"/>
<path d="M687.51,640.91 L699.11,640.91" stroke="#000" stroke-width="3.0"/>
<path d="M687.51,585.74 L699.11,585.74" stroke="#000" stroke-width="3.0"/>
<path d="M687.51,530.56 L699.11,530.56" stroke="#000" stroke-width="3.0"/>
<path d="M687.51,475.39 L699.11,475.39" stroke="#000" stroke-width="3.0"/>
<path d="M699.11,751.25 L699.11,763.25" stroke="#000" stroke-width="3.0"/>
<text class="m" x="700.01" y="786" font-size="21.2">8</text>
<path d="M729.79,751.25 L729.79,763.25" stroke="#000" stroke-width="3.0"/>
<text class="m" x="730.69" y="786" font-size="21.2">10</text>
<path d="M760.46,751.25 L760.46,763.25" stroke="#000" stroke-width="3.0"/>
<text class="m" x="761.36" y="786" font-size="21.2">12</text>
<path d="M791.13,751.25 L791.13,763.25" stroke="#000" stroke-width="3.0"/>
<text class="m" x="792.03" y="786" font-size="21.2">14</text>
<path d="M821.81,751.25 L821.81,763.25" stroke="#000" stroke-width="3.0"/>
<text class="m" x="822.71" y="786" font-size="21.2">16</text>
<path d="M852.48,751.25 L852.48,763.25" stroke="#000" stroke-width="3.0"/>
<text class="m" x="853.38" y="786" font-size="21.2">18</text>
<path d="M883.15,751.25 L883.15,763.25" stroke="#000" stroke-width="3.0"/>
<text class="m" x="884.05" y="786" font-size="21.2">20</text>
<path d="M913.83,751.25 L913.83,763.25" stroke="#000" stroke-width="3.0"/>
<text class="m" x="914.73" y="786" font-size="21.2">22</text>
<path d="M944.5,751.25 L944.5,763.25" stroke="#000" stroke-width="3.0"/>
<text class="m" x="945.4" y="786" font-size="21.2">24</text>
<path d="M975.17,751.25 L975.17,763.25" stroke="#000" stroke-width="3.0"/>
<text class="m" x="976.07" y="786" font-size="21.2">26</text>
<path d="M1006.18,530.56 H1274.52" stroke="#000" stroke-width="3.3" stroke-linecap="round" stroke-dasharray="0 8.37" fill="none"/>
<path d="M997.58,740.09 L1028.23,739.65 L1058.88,737.9 L1089.53,736.8 L1120.19,732.64 L1150.84,727.61 L1181.49,724.32 L1212.14,710.75 L1242.79,711.19 L1273.44,705.71" fill="none" stroke="#ff0000" stroke-width="3.4" stroke-linejoin="miter"/>
<path d="M997.58,745.12 L1028.23,744.03 L1058.88,742.93 L1089.53,740.74 L1120.19,738.56 L1150.84,730.89 L1181.49,707.9 L1212.14,696.52 L1242.79,705.71 L1273.44,712.94" fill="none" stroke="#ff0000" stroke-width="3.4" stroke-linejoin="miter"/>
<path d="M997.58,746.22 L1028.23,745.12 L1058.88,746.22 L1089.53,743.59 L1120.19,740.09 L1150.84,737.46 L1181.49,733.52 L1212.14,712.28 L1242.79,710.09 L1273.44,680.54" fill="none" stroke="#ff0000" stroke-width="3.4" stroke-linejoin="miter"/>
<path d="M997.58,746.66 L1028.23,745.78 L1058.88,746.87 L1089.53,744.47 L1120.19,741.4 L1150.84,741.84 L1181.49,737.9 L1212.14,715.57 L1242.79,717.32 L1273.44,711.19" fill="none" stroke="#ff0000" stroke-width="3.4" stroke-linejoin="miter"/>
<path d="M997.58,475.47 V751.25 H1273.44" fill="none" stroke="#000" stroke-width="3.0" stroke-linecap="square"/>
<path d="M985.98,751.25 L997.58,751.25" stroke="#000" stroke-width="3.0"/>
<path d="M985.98,696.08 L997.58,696.08" stroke="#000" stroke-width="3.0"/>
<path d="M985.98,640.91 L997.58,640.91" stroke="#000" stroke-width="3.0"/>
<path d="M985.98,585.74 L997.58,585.74" stroke="#000" stroke-width="3.0"/>
<path d="M985.98,530.56 L997.58,530.56" stroke="#000" stroke-width="3.0"/>
<path d="M985.98,475.39 L997.58,475.39" stroke="#000" stroke-width="3.0"/>
<path d="M997.58,751.25 L997.58,763.25" stroke="#000" stroke-width="3.0"/>
<text class="m" x="998.48" y="786" font-size="21.2">8</text>
<path d="M1028.23,751.25 L1028.23,763.25" stroke="#000" stroke-width="3.0"/>
<text class="m" x="1029.13" y="786" font-size="21.2">10</text>
<path d="M1058.88,751.25 L1058.88,763.25" stroke="#000" stroke-width="3.0"/>
<text class="m" x="1059.78" y="786" font-size="21.2">12</text>
<path d="M1089.53,751.25 L1089.53,763.25" stroke="#000" stroke-width="3.0"/>
<text class="m" x="1090.43" y="786" font-size="21.2">14</text>
<path d="M1120.19,751.25 L1120.19,763.25" stroke="#000" stroke-width="3.0"/>
<text class="m" x="1121.09" y="786" font-size="21.2">16</text>
<path d="M1150.84,751.25 L1150.84,763.25" stroke="#000" stroke-width="3.0"/>
<text class="m" x="1151.74" y="786" font-size="21.2">18</text>
<path d="M1181.49,751.25 L1181.49,763.25" stroke="#000" stroke-width="3.0"/>
<text class="m" x="1182.39" y="786" font-size="21.2">20</text>
<path d="M1212.14,751.25 L1212.14,763.25" stroke="#000" stroke-width="3.0"/>
<text class="m" x="1213.04" y="786" font-size="21.2">22</text>
<path d="M1242.79,751.25 L1242.79,763.25" stroke="#000" stroke-width="3.0"/>
<text class="m" x="1243.69" y="786" font-size="21.2">24</text>
<path d="M1273.44,751.25 L1273.44,763.25" stroke="#000" stroke-width="3.0"/>
<text class="m" x="1274.34" y="786" font-size="21.2">26</text>
<text class="m" x="261.2" y="463.8" font-size="26">UnTx</text>
<text class="m" x="547.6" y="450.7" font-size="26">CD4</text>
<text class="m" x="547.6" y="481.5" font-size="26">depletion</text>
<text class="m" x="853.5" y="450.7" font-size="26">CD8a</text>
<text class="m" x="853.5" y="481.5" font-size="26">depletion</text>
<text class="m" x="1143" y="469.9" font-size="26">Treated</text>
<text class="m" x="241.8" y="827" font-size="22">Time (Day)</text>
<text class="m" x="541" y="819" font-size="22">Time (Day)</text>
<text class="m" x="837.7" y="819" font-size="22">Time (Day)</text>
<text class="m" x="1136.2" y="819" font-size="22">Time (Day)</text>
<text class="m" x="28.3" y="613" font-size="23.2" transform="rotate(-90 28.3 613)">Tumor Size (mm<tspan dy="-9" font-size="17">3</tspan><tspan dy="9">)</tspan></text>
</g>
<g id="panelD">
<text class="b" x="1296" y="447" font-size="29.5">D</text>
<g stroke="#0000ff" fill="none">
<path stroke-width="2.8" d="M1571.06,706.94 V745.2 M1565.36,706.94 H1576.76 M1565.36,745.2 H1576.76"/>
<path stroke-width="2.8" d="M1626.39,690.19 V731.45 M1620.69,690.19 H1632.09 M1620.69,731.45 H1632.09"/>
<path stroke-width="2.8" d="M1681.72,648.94 V707.23 M1676.02,648.94 H1687.42 M1676.02,707.23 H1687.42"/>
<path stroke-width="2.8" d="M1737.05,582.27 V650.43 M1731.35,582.27 H1742.75 M1731.35,650.43 H1742.75"/>
<path stroke-width="2.8" d="M1792.38,557.46 V632.8 M1786.68,557.46 H1798.08 M1786.68,632.8 H1798.08"/>
<path stroke-width="2.8" d="M1847.71,531.15 V586.46 M1842.01,531.15 H1853.41 M1842.01,586.46 H1853.41"/>
<path stroke-width="3.1" d="M1460.4,744.6 L1515.73,741.02 L1571.06,726.07 L1626.39,710.52 L1681.72,677.94 L1737.05,616.35 L1792.38,595.13 L1847.71,558.65 L1903.04,566.13 L1958.37,512.91"/>
<circle cx="1460.4" cy="744.6" r="4.95" fill="#fff" stroke-width="3.1"/>
<circle cx="1515.73" cy="741.02" r="4.95" fill="#fff" stroke-width="3.1"/>
<circle cx="1571.06" cy="726.07" r="4.95" fill="#fff" stroke-width="3.1"/>
<circle cx="1626.39" cy="710.52" r="4.95" fill="#fff" stroke-width="3.1"/>
<circle cx="1681.72" cy="677.94" r="4.95" fill="#fff" stroke-width="3.1"/>
<circle cx="1737.05" cy="616.35" r="4.95" fill="#fff" stroke-width="3.1"/>
<circle cx="1792.38" cy="595.13" r="4.95" fill="#fff" stroke-width="3.1"/>
<circle cx="1847.71" cy="558.65" r="4.95" fill="#fff" stroke-width="3.1"/>
<circle cx="1903.04" cy="566.13" r="4.95" fill="#fff" stroke-width="3.1"/>
<circle cx="1958.37" cy="512.91" r="4.95" fill="#fff" stroke-width="3.1"/>
</g>
<g stroke="#a20be8" fill="none">
<path stroke-width="2.8" d="M1626.39,715.01 V734.14 M1620.69,715.01 H1632.09 M1620.69,734.14 H1632.09"/>
<path stroke-width="2.8" d="M1681.72,693.18 V705.14 M1676.02,693.18 H1687.42 M1676.02,705.14 H1687.42"/>
<path stroke-width="2.8" d="M1737.05,639.67 V710.52 M1731.35,639.67 H1742.75 M1731.35,710.52 H1742.75"/>
<path stroke-width="2.8" d="M1792.38,614.86 V697.67 M1786.68,614.86 H1798.08 M1786.68,697.67 H1798.08"/>
<path stroke-width="3.1" d="M1460.4,745.5 L1515.73,742.51 L1571.06,734.44 L1626.39,724.57 L1681.72,699.16 L1737.05,675.25 L1792.38,656.11 L1847.71,631.9 L1903.04,596.62"/>
<circle cx="1460.4" cy="745.5" r="4.95" fill="#fff" stroke-width="3.1"/>
<circle cx="1515.73" cy="742.51" r="4.95" fill="#fff" stroke-width="3.1"/>
<circle cx="1571.06" cy="734.44" r="4.95" fill="#fff" stroke-width="3.1"/>
<circle cx="1626.39" cy="724.57" r="4.95" fill="#fff" stroke-width="3.1"/>
<circle cx="1681.72" cy="699.16" r="4.95" fill="#fff" stroke-width="3.1"/>
<circle cx="1737.05" cy="675.25" r="4.95" fill="#fff" stroke-width="3.1"/>
<circle cx="1792.38" cy="656.11" r="4.95" fill="#fff" stroke-width="3.1"/>
<circle cx="1847.71" cy="631.9" r="4.95" fill="#fff" stroke-width="3.1"/>
<circle cx="1903.04" cy="596.62" r="4.95" fill="#fff" stroke-width="3.1"/>
</g>
<g stroke="#ff0000" fill="none">
<path stroke-width="2.8" d="M1737.05,729.06 V741.02 M1731.35,729.06 H1742.75 M1731.35,741.02 H1742.75"/>
<path stroke-width="2.8" d="M1792.38,712.62 V739.52 M1786.68,712.62 H1798.08 M1786.68,739.52 H1798.08"/>
<path stroke-width="2.8" d="M1847.71,700.36 V718 M1842.01,700.36 H1853.41 M1842.01,718 H1853.41"/>
<path stroke-width="2.8" d="M1903.04,706.04 V716.2 M1897.34,706.04 H1908.74 M1897.34,716.2 H1908.74"/>
<path stroke-width="2.8" d="M1958.37,687.8 V717.1 M1952.67,687.8 H1964.07 M1952.67,717.1 H1964.07"/>
<path stroke-width="3.1" d="M1460.4,744.9 L1515.73,743.41 L1571.06,742.51 L1626.39,740.72 L1681.72,738.33 L1737.05,735.04 L1792.38,725.77 L1847.71,709.03 L1903.04,711.12 L1958.37,702.45"/>
<circle cx="1460.4" cy="744.9" r="4.95" fill="#fff" stroke-width="3.1"/>
<circle cx="1515.73" cy="743.41" r="4.95" fill="#fff" stroke-width="3.1"/>
<circle cx="1571.06" cy="742.51" r="4.95" fill="#fff" stroke-width="3.1"/>
<circle cx="1626.39" cy="740.72" r="4.95" fill="#fff" stroke-width="3.1"/>
<circle cx="1681.72" cy="738.33" r="4.95" fill="#fff" stroke-width="3.1"/>
<circle cx="1737.05" cy="735.04" r="4.95" fill="#fff" stroke-width="3.1"/>
<circle cx="1792.38" cy="725.77" r="4.95" fill="#fff" stroke-width="3.1"/>
<circle cx="1847.71" cy="709.03" r="4.95" fill="#fff" stroke-width="3.1"/>
<circle cx="1903.04" cy="711.12" r="4.95" fill="#fff" stroke-width="3.1"/>
<circle cx="1958.37" cy="702.45" r="4.95" fill="#fff" stroke-width="3.1"/>
</g>
<g stroke="#333333" fill="none">
<path stroke-width="2.8" d="M1571.06,681.82 V707.23 M1565.36,681.82 H1576.76 M1565.36,707.23 H1576.76"/>
<path stroke-width="2.8" d="M1626.39,632.5 V679.73 M1620.69,632.5 H1632.09 M1620.69,679.73 H1632.09"/>
<path stroke-width="2.8" d="M1681.72,554.77 V631.9 M1676.02,554.77 H1687.42 M1676.02,631.9 H1687.42"/>
<path stroke-width="2.8" d="M1737.05,525.17 V567.62 M1731.35,525.17 H1742.75 M1731.35,567.62 H1742.75"/>
<path stroke-width="3.1" d="M1460.4,743.11 L1515.73,733.54 L1571.06,694.08 L1626.39,656.11 L1681.72,593.03 L1737.05,546.7"/>
<circle cx="1460.4" cy="743.11" r="4.95" fill="#fff" stroke-width="3.1"/>
<circle cx="1515.73" cy="733.54" r="4.95" fill="#fff" stroke-width="3.1"/>
<circle cx="1571.06" cy="694.08" r="4.95" fill="#fff" stroke-width="3.1"/>
<circle cx="1626.39" cy="656.11" r="4.95" fill="#fff" stroke-width="3.1"/>
<circle cx="1681.72" cy="593.03" r="4.95" fill="#fff" stroke-width="3.1"/>
<circle cx="1737.05" cy="546.7" r="4.95" fill="#fff" stroke-width="3.1"/>
</g>
<path d="M1423.9,475.5 V751.3 H1993" fill="none" stroke="#000" stroke-width="3.0" stroke-linecap="square"/>
<path d="M1412.3,751.3 L1423.9,751.3" stroke="#000" stroke-width="3.0"/>
<text class="e" x="1409.3" y="758.6" font-size="21.2">0</text>
<path d="M1412.3,696.12 L1423.9,696.12" stroke="#000" stroke-width="3.0"/>
<text class="e" x="1409.3" y="703.42" font-size="21.2">200</text>
<path d="M1412.3,640.94 L1423.9,640.94" stroke="#000" stroke-width="3.0"/>
<text class="e" x="1409.3" y="648.24" font-size="21.2">400</text>
<path d="M1412.3,585.76 L1423.9,585.76" stroke="#000" stroke-width="3.0"/>
<text class="e" x="1409.3" y="593.06" font-size="21.2">600</text>
<path d="M1412.3,530.58 L1423.9,530.58" stroke="#000" stroke-width="3.0"/>
<text class="e" x="1409.3" y="537.88" font-size="21.2">800</text>
<path d="M1412.3,475.4 L1423.9,475.4" stroke="#000" stroke-width="3.0"/>
<text class="e" x="1409.3" y="482.7" font-size="21.2">1000</text>
<path d="M1460.4,751.3 L1460.4,763.3" stroke="#000" stroke-width="3.0"/>
<text class="m" x="1460.4" y="786" font-size="21.2">8</text>
<path d="M1515.73,751.3 L1515.73,763.3" stroke="#000" stroke-width="3.0"/>
<text class="m" x="1515.73" y="786" font-size="21.2">10</text>
<path d="M1571.06,751.3 L1571.06,763.3" stroke="#000" stroke-width="3.0"/>
<text class="m" x="1571.06" y="786" font-size="21.2">12</text>
<path d="M1626.39,751.3 L1626.39,763.3" stroke="#000" stroke-width="3.0"/>
<text class="m" x="1626.39" y="786" font-size="21.2">14</text>
<path d="M1681.72,751.3 L1681.72,763.3" stroke="#000" stroke-width="3.0"/>
<text class="m" x="1681.72" y="786" font-size="21.2">16</text>
<path d="M1737.05,751.3 L1737.05,763.3" stroke="#000" stroke-width="3.0"/>
<text class="m" x="1737.05" y="786" font-size="21.2">18</text>
<path d="M1792.38,751.3 L1792.38,763.3" stroke="#000" stroke-width="3.0"/>
<text class="m" x="1792.38" y="786" font-size="21.2">20</text>
<path d="M1847.71,751.3 L1847.71,763.3" stroke="#000" stroke-width="3.0"/>
<text class="m" x="1847.71" y="786" font-size="21.2">22</text>
<path d="M1903.04,751.3 L1903.04,763.3" stroke="#000" stroke-width="3.0"/>
<text class="m" x="1903.04" y="786" font-size="21.2">24</text>
<path d="M1958.37,751.3 L1958.37,763.3" stroke="#000" stroke-width="3.0"/>
<text class="m" x="1958.37" y="786" font-size="21.2">26</text>
<text class="m" x="1710" y="827" font-size="22">Time (Day)</text>
<text class="m" x="1348.8" y="613" font-size="23.2" transform="rotate(-90 1348.8 613)">Tumor Size (mm<tspan dy="-9" font-size="17">3</tspan><tspan dy="9">)</tspan></text>
<g stroke="#333333" stroke-width="3.1"><path d="M1429.3,380 H1458.3"/><circle cx="1443.6" cy="380" r="4.95" fill="#fff" stroke-width="3.1"/></g>
<text x="1475.4" y="387.2" font-size="20.5" letter-spacing="-0.045em">UnTx</text>
<g stroke="#a20be8" stroke-width="3.1"><path d="M1429.3,428 H1458.3"/><circle cx="1443.6" cy="428" r="4.95" fill="#fff" stroke-width="3.1"/></g>
<text x="1475.4" y="435.2" font-size="20.5">CD4 depletion</text>
<g stroke="#0000ff" stroke-width="3.1"><path d="M1429.3,474.7 H1458.3"/><circle cx="1443.6" cy="474.7" r="4.95" fill="#fff" stroke-width="3.1"/></g>
<text x="1475.4" y="481.9" font-size="20.5">CD8a depletion</text>
<g stroke="#ff0000" stroke-width="3.1"><path d="M1429.3,519 H1458.3"/><circle cx="1443.6" cy="519" r="4.95" fill="#fff" stroke-width="3.1"/></g>
<text x="1475.4" y="526.2" font-size="20.5" letter-spacing="-0.013em">Treated</text>
<path d="M1621.1,382.6 H1761.4 V520.1 H1621.1 M1621.1,430.7 H1732.8 V520.1 M1621.1,474.7 H1677 V520.1" fill="none" stroke="#000" stroke-width="2.8"/>
<text class="m" x="1673.5" y="369.3" font-size="32.5">****</text>
<text class="m" x="1673.5" y="379.3" font-size="20.5"><tspan class="i">P</tspan> &lt; 0.0001</text>
<text class="m" x="1677.7" y="417" font-size="32.5">*</text>
<text class="m" x="1677.8" y="426.8" font-size="20.5"><tspan class="i">P</tspan> = 0.0277</text>
<text class="m" x="1674" y="460.8" font-size="32.5">***</text>
<text class="m" x="1674.3" y="470.4" font-size="20.5"><tspan class="i">P</tspan> = 0.0002</text>
</g>
<g id="panelE">
<defs>
<filter id="bl" x="-5%" y="-5%" width="110%" height="110%"><feGaussianBlur stdDeviation="5"/></filter>
<filter id="bl2" x="-15%" y="-15%" width="130%" height="130%"><feGaussianBlur stdDeviation="4"/></filter>
<filter id="bl3" x="-20%" y="-20%" width="140%" height="140%"><feGaussianBlur stdDeviation="12"/></filter>
<filter id="fur0" x="-5%" y="-8%" width="110%" height="116%" color-interpolation-filters="sRGB"><feTurbulence type="fractalNoise" baseFrequency="0.11" numOctaves="2" seed="3" result="n1"/><feDisplacementMap in="SourceGraphic" in2="n1" scale="9" xChannelSelector="R" yChannelSelector="G" result="d"/><feGaussianBlur in="d" stdDeviation="0.9" result="b"/><feTurbulence type="fractalNoise" baseFrequency="0.75" numOctaves="2" seed="7" result="n2"/><feColorMatrix in="n2" type="matrix" values="1 0 0 0 0 1 0 0 0 0 1 0 0 0 0 0 0 0 0 1" result="g"/><feComposite in="b" in2="g" operator="arithmetic" k1="0" k2="1" k3="0.10" k4="-0.05"/></filter>
<filter id="fur1" x="-5%" y="-8%" width="110%" height="116%" color-interpolation-filters="sRGB"><feTurbulence type="fractalNoise" baseFrequency="0.11" numOctaves="2" seed="11" result="n1"/><feDisplacementMap in="SourceGraphic" in2="n1" scale="9" xChannelSelector="R" yChannelSelector="G" result="d"/><feGaussianBlur in="d" stdDeviation="0.9" result="b"/><feTurbulence type="fractalNoise" baseFrequency="0.75" numOctaves="2" seed="5" result="n2"/><feColorMatrix in="n2" type="matrix" values="1 0 0 0 0 1 0 0 0 0 1 0 0 0 0 0 0 0 0 1" result="g"/><feComposite in="b" in2="g" operator="arithmetic" k1="0" k2="1" k3="0.10" k4="-0.05"/></filter>
<filter id="fur2" x="-5%" y="-8%" width="110%" height="116%" color-interpolation-filters="sRGB"><feTurbulence type="fractalNoise" baseFrequency="0.11" numOctaves="2" seed="23" result="n1"/><feDisplacementMap in="SourceGraphic" in2="n1" scale="9" xChannelSelector="R" yChannelSelector="G" result="d"/><feGaussianBlur in="d" stdDeviation="0.9" result="b"/><feTurbulence type="fractalNoise" baseFrequency="0.75" numOctaves="2" seed="9" result="n2"/><feColorMatrix in="n2" type="matrix" values="1 0 0 0 0 1 0 0 0 0 1 0 0 0 0 0 0 0 0 1" result="g"/><feComposite in="b" in2="g" operator="arithmetic" k1="0" k2="1" k3="0.10" k4="-0.05"/></filter>
<filter id="grain" x="-5%" y="-5%" width="110%" height="110%" color-interpolation-filters="sRGB"><feGaussianBlur in="SourceGraphic" stdDeviation="0.9" result="b"/><feTurbulence type="fractalNoise" baseFrequency="0.75" numOctaves="2" seed="13" result="n2"/><feColorMatrix in="n2" type="matrix" values="1 0 0 0 0 1 0 0 0 0 1 0 0 0 0 0 0 0 0 1" result="g"/><feComposite in="b" in2="g" operator="arithmetic" k1="0" k2="1" k3="0.10" k4="-0.05" result="c"/><feComposite in="c" in2="b" operator="in"/></filter>
<filter id="hair" x="0" y="0" width="100%" height="100%" color-interpolation-filters="sRGB"><feTurbulence type="fractalNoise" baseFrequency="0.006 0.035" numOctaves="3" seed="5" result="t"/><feColorMatrix in="t" type="matrix" values="0 0 0 0 0.42  0 0 0 0 0.42  0 0 0 0 0.42  3 0 0 0 -1.25" result="h"/><feGaussianBlur in="SourceAlpha" stdDeviation="10" result="sa"/><feComposite in="h" in2="sa" operator="in"/></filter>
<radialGradient id="tOut"><stop offset="0" stop-color="#00e0ff"/><stop offset="0.62" stop-color="#00c8ff"/><stop offset="0.76" stop-color="#0040ff"/><stop offset="0.88" stop-color="#3a00ff"/><stop offset="1" stop-color="#7a00ff"/></radialGradient>
<radialGradient id="tIn"><stop offset="0" stop-color="#ff0000"/><stop offset="0.74" stop-color="#ff0000"/><stop offset="0.80" stop-color="#ffb000"/><stop offset="0.85" stop-color="#e0ff00"/><stop offset="0.92" stop-color="#00ff30"/><stop offset="1" stop-color="#00ffb0"/></radialGradient>
<radialGradient id="tInY"><stop offset="0" stop-color="#ff2000"/><stop offset="0.25" stop-color="#ff4000"/><stop offset="0.4" stop-color="#ffd000"/><stop offset="0.6" stop-color="#a0ff00"/><stop offset="0.85" stop-color="#00ff30"/><stop offset="1" stop-color="#00ffb0"/></radialGradient>
<linearGradient id="cbar" x1="0" y1="0" x2="0" y2="1"><stop offset="0" stop-color="#ff1e00"/><stop offset="0.08" stop-color="#ff5500"/><stop offset="0.15" stop-color="#ffa800"/><stop offset="0.21" stop-color="#ffff00"/><stop offset="0.30" stop-color="#a0ff00"/><stop offset="0.44" stop-color="#00f000"/><stop offset="0.56" stop-color="#00ff80"/><stop offset="0.685" stop-color="#00ffff"/><stop offset="0.78" stop-color="#0090ff"/><stop offset="0.90" stop-color="#0000ff"/><stop offset="1" stop-color="#6a00ff"/></linearGradient>
</defs>
<clipPath id="c11"><rect x="35.3" y="962" width="283.6" height="190"/></clipPath>
<g clip-path="url(#c11)">
<g filter="url(#fur2)">
<rect x="23.3" y="950" width="307.6" height="214" fill="#3a3a3a"/>
<g transform="translate(35.3 962) scale(0.15022) translate(-35 -47)">
<path d="M180,300 C243.33,265 348.33,273.33 560,270 C771.67,266.67 1263.33,255 1450,280 C1636.67,305 1635,350 1680,420 C1725,490 1723.33,600 1720,700 C1716.67,800 1713.33,953.33 1660,1020 C1606.67,1086.67 1643.33,1088.33 1400,1100 C1156.67,1111.67 411.67,1123.33 200,1090 C-11.67,1056.67 156.67,960 130,900 C103.33,840 31.67,800 40,730 C48.33,660 156.67,551.67 180,480 C203.33,408.33 116.67,335 180,300Z" fill="#303030" filter="url(#bl3)"/>
<path d="M60,740 C76.67,696.67 193.33,611.67 250,560 C306.67,508.33 348.33,456.67 400,430 C451.67,403.33 493.33,411.67 560,400 C626.67,388.33 693.33,371.67 800,360 C906.67,348.33 1116.67,333.33 1200,330 C1283.33,326.67 1283.33,328.33 1300,340 C1316.67,351.67 1310,373.33 1300,400 C1290,426.67 1273.33,470 1240,500 C1206.67,530 1140,550 1100,580 C1060,610 1015,643.33 1000,680 C985,716.67 990,766.67 1010,800 C1030,833.33 1096.67,850 1120,880 C1143.33,910 1111.67,953.33 1150,980 C1188.33,1006.67 1341.67,1028.33 1350,1040 C1358.33,1051.67 1275,1050 1200,1050 C1125,1050 1000,1048.33 900,1040 C800,1031.67 675,1015 600,1000 C525,985 500,970 450,950 C400,930 350,901.67 300,880 C250,858.33 190,843.33 150,820 C110,796.67 43.33,783.33 60,740Z" fill="#232323" filter="url(#bl)"/>
<path d="M60,740 C76.67,696.67 193.33,611.67 250,560 C306.67,508.33 348.33,456.67 400,430 C451.67,403.33 493.33,411.67 560,400 C626.67,388.33 693.33,371.67 800,360 C906.67,348.33 1116.67,333.33 1200,330 C1283.33,326.67 1283.33,328.33 1300,340 C1316.67,351.67 1310,373.33 1300,400 C1290,426.67 1273.33,470 1240,500 C1206.67,530 1140,550 1100,580 C1060,610 1015,643.33 1000,680 C985,716.67 990,766.67 1010,800 C1030,833.33 1096.67,850 1120,880 C1143.33,910 1111.67,953.33 1150,980 C1188.33,1006.67 1341.67,1028.33 1350,1040 C1358.33,1051.67 1275,1050 1200,1050 C1125,1050 1000,1048.33 900,1040 C800,1031.67 675,1015 600,1000 C525,985 500,970 450,950 C400,930 350,901.67 300,880 C250,858.33 190,843.33 150,820 C110,796.67 43.33,783.33 60,740Z" fill="#000" filter="url(#hair)" opacity="0.6"/>
<path d="M83.52,738.14 C99.36,699.02 210.19,620.03 264.02,575.98 C317.86,531.93 357.44,492.44 406.52,473.85 C455.61,455.26 495.19,466.8 558.52,464.45 C621.86,462.1 685.19,455.98 786.52,459.75 C887.86,463.51 1087.36,479.55 1166.52,487.03 C1245.69,494.51 1245.69,496.24 1261.52,504.64 C1277.36,513.03 1271.02,523.51 1261.52,537.41 C1252.02,551.32 1236.19,573.02 1204.52,588.08 C1172.86,603.13 1109.52,611.07 1071.52,627.74 C1033.52,644.42 990.77,665.25 976.52,688.14 C962.27,711.03 967.02,744.78 986.02,765.1 C1005.02,785.41 1068.36,792.89 1090.52,810.01 C1112.69,827.12 1082.61,855.87 1119.02,867.79 C1155.44,879.71 1301.11,875.54 1309.02,881.54 C1316.94,887.54 1237.77,895.56 1166.52,903.8 C1095.27,912.03 976.52,926.09 881.52,930.94 C786.52,935.79 667.77,937.01 596.52,932.9 C525.27,928.79 501.52,918.86 454.02,906.26 C406.52,893.66 359.02,873.23 311.52,857.3 C264.02,841.38 207.02,830.57 169.02,810.71 C131.02,790.85 67.69,777.26 83.52,738.14Z" fill="#0d0d0d" filter="url(#bl3)" opacity="0.93"/>
<path d="M1250,480 C1283.33,446.67 1275,406.67 1300,380 C1325,353.33 1358.33,326.67 1400,320 C1441.67,313.33 1508.33,318.33 1550,340 C1591.67,361.67 1625,406.67 1650,450 C1675,493.33 1691.67,558.33 1700,600 C1708.33,641.67 1708.33,666.67 1700,700 C1691.67,733.33 1666.67,766.67 1650,800 C1633.33,833.33 1616.67,866.67 1600,900 C1583.33,933.33 1583.33,976.67 1550,1000 C1516.67,1023.33 1450,1040 1400,1040 C1350,1040 1295,1015 1250,1000 C1205,985 1151.67,971.67 1130,950 C1108.33,928.33 1140,895 1120,870 C1100,845 1030,831.67 1010,800 C990,768.33 985,716.67 1000,680 C1015,643.33 1058.33,613.33 1100,580 C1141.67,546.67 1216.67,513.33 1250,480Z" fill="#dedede" filter="url(#bl)"/>
<path d="M400,313 C407.67,293.83 440.83,286.33 458,300 C475.17,313.67 501,371.67 503,395 C505,418.33 485.17,436.67 470,440 C454.83,443.33 423.67,436.17 412,415 C400.33,393.83 392.33,332.17 400,313Z" fill="#414141" filter="url(#bl2)"/>
<path d="M386,797 C391.5,780 441.5,774.33 464,777 C486.5,779.67 514.83,794 521,813 C527.17,832 516,880 501,891 C486,902 450.17,894.67 431,879 C411.83,863.33 380.5,814 386,797Z" fill="#767676" filter="url(#bl2)"/>
</g></g>
<g filter="url(#grain)"><g transform="translate(35.3 962) scale(0.15022) translate(-35 -47)">
<path d="M1640,430 C1653.33,418.33 1700,393.33 1720,360 C1740,326.67 1744.17,271.67 1760,230 C1775.83,188.33 1805.83,130 1815,110" fill="none" stroke="#b8b8b8" stroke-width="81" stroke-linecap="round" stroke-linejoin="round"/>
<path d="M1600,920 C1615,921.67 1665,908.33 1690,930 C1715,951.67 1730,1013.33 1750,1050 C1770,1086.67 1793.33,1125 1810,1150 C1826.67,1175 1843.33,1191.67 1850,1200" fill="none" stroke="#a8a8a8" stroke-width="74" stroke-linecap="round" stroke-linejoin="round"/>
<path d="M1660,621 L1930,629 L1930,715 L1660,719Z" fill="#cfcfcf" filter="url(#bl2)"/>
</g></g>
<g transform="translate(35.3 962) scale(0.15022) translate(-35 -47)">
<ellipse cx="1528" cy="532" rx="138" ry="152" fill="url(#tOut)" transform="rotate(-35 1528 532)"/>
<ellipse cx="1540" cy="525" rx="100" ry="105" fill="url(#tIn)" transform="rotate(-35 1540 525)"/>
</g></g>
<clipPath id="c12"><rect x="333.3" y="962" width="283.6" height="190"/></clipPath>
<g clip-path="url(#c12)">
<g filter="url(#fur0)">
<rect x="321.3" y="950" width="307.6" height="214" fill="#3a3a3a"/>
<g transform="translate(333.3 962) scale(0.15022) translate(-35 -47)">
<path d="M120,600 C145,521.67 320,385 450,330 C580,275 725,283.33 900,270 C1075,256.67 1366.67,245 1500,250 C1633.33,255 1663.33,175 1700,300 C1736.67,425 1753.33,870 1720,1000 C1686.67,1130 1636.67,1076.67 1500,1080 C1363.33,1083.33 1066.67,1033.33 900,1020 C733.33,1006.67 600,1036.67 500,1000 C400,963.33 363.33,866.67 300,800 C236.67,733.33 95,678.33 120,600Z" fill="#303030" filter="url(#bl3)"/>
<path d="M280,950 C305,916.67 425,916.67 450,950 C475,983.33 455,1116.67 430,1150 C405,1183.33 325,1183.33 300,1150 C275,1116.67 255,983.33 280,950Z" fill="#333333" filter="url(#bl2)"/>
<path d="M150,620 C183.33,566.67 366.67,448.33 450,400 C533.33,351.67 575,343.33 650,330 C725,316.67 816.67,316.67 900,320 C983.33,323.33 1100,333.33 1150,350 C1200,366.67 1208.33,391.67 1200,420 C1191.67,448.33 1125,486.67 1100,520 C1075,553.33 1066.67,590 1050,620 C1033.33,650 995,673.33 1000,700 C1005,726.67 1076.67,753.33 1080,780 C1083.33,806.67 1033.33,831.67 1020,860 C1006.67,888.33 1020,931.67 1000,950 C980,968.33 966.67,968.33 900,970 C833.33,971.67 666.67,971.67 600,960 C533.33,948.33 533.33,926.67 500,900 C466.67,873.33 441.67,830 400,800 C358.33,770 291.67,750 250,720 C208.33,690 116.67,673.33 150,620Z" fill="#232323" filter="url(#bl)"/>
<path d="M150,620 C183.33,566.67 366.67,448.33 450,400 C533.33,351.67 575,343.33 650,330 C725,316.67 816.67,316.67 900,320 C983.33,323.33 1100,333.33 1150,350 C1200,366.67 1208.33,391.67 1200,420 C1191.67,448.33 1125,486.67 1100,520 C1075,553.33 1066.67,590 1050,620 C1033.33,650 995,673.33 1000,700 C1005,726.67 1076.67,753.33 1080,780 C1083.33,806.67 1033.33,831.67 1020,860 C1006.67,888.33 1020,931.67 1000,950 C980,968.33 966.67,968.33 900,970 C833.33,971.67 666.67,971.67 600,960 C533.33,948.33 533.33,926.67 500,900 C466.67,873.33 441.67,830 400,800 C358.33,770 291.67,750 250,720 C208.33,690 116.67,673.33 150,620Z" fill="#000" filter="url(#hair)" opacity="0.6"/>
<path d="M166.91,622 C198.58,576.93 372.75,479.12 451.91,444.2 C531.08,409.28 570.66,413.37 641.91,412.5 C713.16,411.63 800.25,426.17 879.41,439 C958.58,451.83 1069.41,473.87 1116.91,489.5 C1164.41,505.13 1172.33,517.68 1164.41,532.8 C1156.5,547.92 1093.16,562.93 1069.41,580.2 C1045.66,597.47 1037.75,619.03 1021.91,636.4 C1006.08,653.77 969.66,668.91 974.41,684.4 C979.16,699.89 1047.25,713.36 1050.41,729.36 C1053.58,745.36 1006.08,762.48 993.41,780.4 C980.75,798.32 993.41,823.38 974.41,836.9 C955.41,850.42 942.75,852.48 879.41,861.5 C816.08,870.52 657.75,892.18 594.41,891 C531.08,889.82 531.08,873.07 499.41,854.4 C467.75,835.73 444,802.3 404.41,779 C364.83,755.7 301.5,740.77 261.91,714.6 C222.33,688.43 135.25,667.07 166.91,622Z" fill="#0d0d0d" filter="url(#bl3)" opacity="0.93"/>
<path d="M1200,420 C1258.33,383.33 1380,320 1450,300 C1520,280 1581.67,283.33 1620,300 C1658.33,316.67 1666.67,358.33 1680,400 C1693.33,441.67 1683.33,513.33 1700,550 C1716.67,586.67 1771.67,590 1780,620 C1788.33,650 1771.67,683.33 1750,730 C1728.33,776.67 1671.67,855 1650,900 C1628.33,945 1645,976.67 1620,1000 C1595,1023.33 1553.33,1040 1500,1040 C1446.67,1040 1383.33,1015 1300,1000 C1216.67,985 1046.67,973.33 1000,950 C953.33,926.67 1006.67,888.33 1020,860 C1033.33,831.67 1083.33,806.67 1080,780 C1076.67,753.33 1005,726.67 1000,700 C995,673.33 1033.33,650 1050,620 C1066.67,590 1075,553.33 1100,520 C1125,486.67 1141.67,456.67 1200,420Z" fill="#dedede" filter="url(#bl)"/>
<path d="M446,484 C455.5,462.17 499.5,423.5 520,418 C540.5,412.5 555.33,431.83 569,451 C582.67,470.17 607.33,511.17 602,533 C596.67,554.83 560.17,579.33 537,582 C513.83,584.67 478.17,565.33 463,549 C447.83,532.67 436.5,505.83 446,484Z" fill="#6e6e6e" filter="url(#bl2)"/>
<path d="M417,797 C430.67,779.17 487.67,794 515,805 C542.33,816 578.17,845.17 581,863 C583.83,880.83 545.67,892.83 532,912 C518.33,931.17 515.5,978 499,978 C482.5,978 446.67,942.17 433,912 C419.33,881.83 403.33,814.83 417,797Z" fill="#979797" filter="url(#bl2)"/>
</g></g>
<g filter="url(#grain)"><g transform="translate(333.3 962) scale(0.15022) translate(-35 -47)">
<path d="M1660,340 C1681.67,338.33 1763.33,353.33 1790,330 C1816.67,306.67 1813.33,246.67 1820,200 C1826.67,153.33 1828.33,75 1830,50" fill="none" stroke="#b8b8b8" stroke-width="81" stroke-linecap="round" stroke-linejoin="round"/>
<path d="M1620,980 C1640,981.67 1713.33,966.67 1740,990 C1766.67,1013.33 1766.67,1070 1780,1120 C1793.33,1170 1813.33,1261.67 1820,1290" fill="none" stroke="#b8b8b8" stroke-width="76" stroke-linecap="round" stroke-linejoin="round"/>
<path d="M1700,620 L1930,624 L1930,710 L1700,719Z" fill="#d4d4d4" filter="url(#bl2)"/>
</g></g>
<g transform="translate(333.3 962) scale(0.15022) translate(-35 -47)">
<ellipse cx="1525" cy="495" rx="148" ry="125" fill="url(#tOut)" transform="rotate(15 1525 495)"/>
<ellipse cx="1525" cy="480" rx="105" ry="78" fill="url(#tIn)" transform="rotate(15 1525 480)"/>
</g></g>
<clipPath id="c13"><rect x="631" y="962" width="283.6" height="190"/></clipPath>
<g clip-path="url(#c13)">
<g filter="url(#fur1)">
<rect x="619" y="950" width="307.6" height="214" fill="#3a3a3a"/>
<g transform="translate(631 962) scale(0.15022) translate(-35 -47)">
<path d="M450,300 C566.67,255 791.67,276.67 1000,280 C1208.33,283.33 1573.33,283.33 1700,320 C1826.67,356.67 1756.67,370 1760,500 C1763.33,630 1796.67,1000 1720,1100 C1643.33,1200 1511.67,1106.67 1300,1100 C1088.33,1093.33 638.33,1110 450,1060 C261.67,1010 195,885 170,800 C145,715 253.33,633.33 300,550 C346.67,466.67 333.33,345 450,300Z" fill="#303030" filter="url(#bl3)"/>
<path d="M190,790 C206.67,755 281.67,678.33 330,620 C378.33,561.67 441.67,488.33 480,440 C518.33,391.67 523.33,348.33 560,330 C596.67,311.67 643.33,328.33 700,330 C756.67,331.67 833.33,328.33 900,340 C966.67,351.67 1050,376.67 1100,400 C1150,423.33 1186.67,453.33 1200,480 C1213.33,506.67 1205,536.67 1180,560 C1155,583.33 1066.67,593.33 1050,620 C1033.33,646.67 1055,690 1080,720 C1105,750 1173.33,770 1200,800 C1226.67,830 1240,870 1240,900 C1240,930 1190,960 1200,980 C1210,1000 1333.33,1016.67 1300,1020 C1266.67,1023.33 1100,1008.33 1000,1000 C900,991.67 783.33,981.67 700,970 C616.67,958.33 558.33,945 500,930 C441.67,915 395,896.67 350,880 C305,863.33 256.67,845 230,830 C203.33,815 173.33,825 190,790Z" fill="#232323" filter="url(#bl)"/>
<path d="M190,790 C206.67,755 281.67,678.33 330,620 C378.33,561.67 441.67,488.33 480,440 C518.33,391.67 523.33,348.33 560,330 C596.67,311.67 643.33,328.33 700,330 C756.67,331.67 833.33,328.33 900,340 C966.67,351.67 1050,376.67 1100,400 C1150,423.33 1186.67,453.33 1200,480 C1213.33,506.67 1205,536.67 1180,560 C1155,583.33 1066.67,593.33 1050,620 C1033.33,646.67 1055,690 1080,720 C1105,750 1173.33,770 1200,800 C1226.67,830 1240,870 1240,900 C1240,930 1190,960 1200,980 C1210,1000 1333.33,1016.67 1300,1020 C1266.67,1023.33 1100,1008.33 1000,1000 C900,991.67 783.33,981.67 700,970 C616.67,958.33 558.33,945 500,930 C441.67,915 395,896.67 350,880 C305,863.33 256.67,845 230,830 C203.33,815 173.33,825 190,790Z" fill="#000" filter="url(#hair)" opacity="0.6"/>
<path d="M206.73,785.35 C222.56,753.12 293.81,678.65 339.73,627.93 C385.64,577.21 445.81,519.08 482.23,481.05 C518.64,443.02 523.39,410.04 558.23,399.73 C593.06,389.42 637.39,410.17 691.23,419.17 C745.06,428.18 817.89,437.43 881.23,453.76 C944.56,470.08 1023.72,497.11 1071.22,517.11 C1118.72,537.12 1153.56,556.94 1166.22,573.78 C1178.89,590.62 1170.97,605.65 1147.22,618.17 C1123.47,630.69 1039.56,633.42 1023.73,648.91 C1007.89,664.4 1028.47,693.34 1052.22,711.1 C1075.97,728.87 1140.89,739.14 1166.22,755.49 C1191.56,771.84 1204.22,792.16 1204.22,809.2 C1204.22,826.23 1156.72,847.87 1166.22,857.7 C1175.72,867.53 1292.89,862.48 1261.22,868.19 C1229.56,873.9 1071.22,886.07 976.23,891.98 C881.23,897.9 770.39,903.83 691.23,903.67 C612.06,903.51 556.64,898.34 501.23,891.02 C445.81,883.7 401.48,871.38 358.73,859.77 C315.98,848.16 270.06,833.74 244.73,821.34 C219.39,808.93 190.89,817.58 206.73,785.35Z" fill="#0d0d0d" filter="url(#bl3)" opacity="0.93"/>
<path d="M1200,480 C1220,456.67 1250,441.67 1300,420 C1350,398.33 1446.67,356.67 1500,350 C1553.33,343.33 1586.67,355 1620,380 C1653.33,405 1676.67,460 1700,500 C1723.33,540 1743.33,588.33 1760,620 C1776.67,651.67 1796.67,660 1800,690 C1803.33,720 1796.67,765 1780,800 C1763.33,835 1721.67,866.67 1700,900 C1678.33,933.33 1666.67,973.33 1650,1000 C1633.33,1026.67 1633.33,1053.33 1600,1060 C1566.67,1066.67 1500,1050 1450,1040 C1400,1030 1335,1023.33 1300,1000 C1265,976.67 1256.67,933.33 1240,900 C1223.33,866.67 1226.67,830 1200,800 C1173.33,770 1105,750 1080,720 C1055,690 1033.33,646.67 1050,620 C1066.67,593.33 1155,583.33 1180,560 C1205,536.67 1180,503.33 1200,480Z" fill="#dedede" filter="url(#bl)"/>
<path d="M1050,600 C1058.33,576.67 1161.67,543.33 1200,560 C1238.33,576.67 1288.33,676.67 1280,700 C1271.67,723.33 1188.33,716.67 1150,700 C1111.67,683.33 1041.67,623.33 1050,600Z" fill="#d0d0d0" filter="url(#bl2)"/>
<path d="M515,400 C528.67,379.5 592,343.67 614,334 C636,324.33 644.33,320.17 647,342 C649.67,363.83 649.17,445.83 630,465 C610.83,484.17 551.17,467.83 532,457 C512.83,446.17 501.33,420.5 515,400Z" fill="#767676" filter="url(#bl2)"/>
<path d="M468,781 C470.83,759.17 514.67,713.33 542,708 C569.33,702.67 623.83,721.67 632,749 C640.17,776.33 608.83,857 591,872 C573.17,887 545.5,854.17 525,839 C504.5,823.83 465.17,802.83 468,781Z" fill="#898989" filter="url(#bl2)"/>
</g></g>
<g filter="url(#grain)"><g transform="translate(631 962) scale(0.15022) translate(-35 -47)">
<path d="M1720,460 C1735,456.67 1795,463.33 1810,440 C1825,416.67 1810,360 1810,320 C1810,280 1806.67,236.67 1810,200 C1813.33,163.33 1826.67,116.67 1830,100" fill="none" stroke="#b8b8b8" stroke-width="74" stroke-linecap="round" stroke-linejoin="round"/>
<path d="M1660,1040 C1676.67,1046.67 1741.67,1053.33 1760,1080 C1778.33,1106.67 1770,1161.67 1770,1200 C1770,1238.33 1761.67,1291.67 1760,1310" fill="none" stroke="#b8b8b8" stroke-width="71" stroke-linecap="round" stroke-linejoin="round"/>
<path d="M1760,685 L1930,688 L1930,774 L1760,779Z" fill="#d4d4d4" filter="url(#bl2)"/>
</g></g>
<g transform="translate(631 962) scale(0.15022) translate(-35 -47)">
<ellipse cx="1612" cy="595" rx="150" ry="120" fill="url(#tOut)" transform="rotate(30 1612 595)"/>
<ellipse cx="1610" cy="585" rx="108" ry="82" fill="url(#tIn)" transform="rotate(30 1610 585)"/>
</g></g>
<clipPath id="c14"><rect x="929" y="962" width="283.6" height="190"/></clipPath>
<g clip-path="url(#c14)">
<g filter="url(#fur2)">
<rect x="917" y="950" width="307.6" height="214" fill="#3a3a3a"/>
<g transform="translate(929 962) scale(0.15022) translate(-35 -47)">
<path d="M80,590 C113.33,503.33 263.33,331.67 400,280 C536.67,228.33 716.67,283.33 900,280 C1083.33,276.67 1363.33,250 1500,260 C1636.67,270 1678.33,216.67 1720,340 C1761.67,463.33 1770,868.33 1750,1000 C1730,1131.67 1741.67,1113.33 1600,1130 C1458.33,1146.67 1091.67,1121.67 900,1100 C708.33,1078.33 566.67,1050 450,1000 C333.33,950 261.67,868.33 200,800 C138.33,731.67 46.67,676.67 80,590Z" fill="#303030" filter="url(#bl3)"/>
<path d="M180,950 C205,925 325,925 350,950 C375,975 355,1075 330,1100 C305,1125 225,1125 200,1100 C175,1075 155,975 180,950Z" fill="#333333" filter="url(#bl2)"/>
<path d="M100,590 C116.67,551.67 200,493.33 250,450 C300,406.67 341.67,355 400,330 C458.33,305 516.67,300 600,300 C683.33,300 791.67,333.33 900,330 C1008.33,326.67 1150,285 1250,280 C1350,275 1433.33,290 1500,300 C1566.67,310 1633.33,306.67 1650,340 C1666.67,373.33 1608.33,373.33 1600,500 C1591.67,626.67 1650,1000 1600,1100 C1550,1200 1416.67,1103.33 1300,1100 C1183.33,1096.67 1016.67,1093.33 900,1080 C783.33,1066.67 675,1041.67 600,1020 C525,998.33 500,986.67 450,950 C400,913.33 350,845 300,800 C250,755 183.33,715 150,680 C116.67,645 83.33,628.33 100,590Z" fill="#232323" filter="url(#bl)"/>
<path d="M100,590 C116.67,551.67 200,493.33 250,450 C300,406.67 341.67,355 400,330 C458.33,305 516.67,300 600,300 C683.33,300 791.67,333.33 900,330 C1008.33,326.67 1150,285 1250,280 C1350,275 1433.33,290 1500,300 C1566.67,310 1633.33,306.67 1650,340 C1666.67,373.33 1608.33,373.33 1600,500 C1591.67,626.67 1650,1000 1600,1100 C1550,1200 1416.67,1103.33 1300,1100 C1183.33,1096.67 1016.67,1093.33 900,1080 C783.33,1066.67 675,1041.67 600,1020 C525,998.33 500,986.67 450,950 C400,913.33 350,845 300,800 C250,755 183.33,715 150,680 C116.67,645 83.33,628.33 100,590Z" fill="#000" filter="url(#hair)" opacity="0.6"/>
<path d="M122.34,592.22 C138.18,557.15 217.34,503.76 264.84,466.71 C312.34,429.67 351.93,387.41 407.34,369.96 C462.76,352.51 518.18,355.15 597.34,362.02 C676.51,368.89 779.43,403.51 882.34,411.2 C985.26,418.89 1119.84,402.75 1214.84,408.15 C1309.84,413.54 1389.01,431.86 1452.34,443.57 C1515.68,455.27 1579.01,458.73 1594.84,478.36 C1610.68,497.98 1555.26,493.15 1547.34,561.34 C1539.43,629.52 1594.84,826.8 1547.34,887.46 C1499.84,948.13 1373.18,913.04 1262.34,925.32 C1151.51,937.59 993.18,957.26 882.34,961.12 C771.51,964.98 668.59,957.95 597.34,948.47 C526.09,939 502.34,931.91 454.84,904.29 C407.34,876.66 359.84,820.61 312.34,782.74 C264.84,744.88 201.51,708.85 169.84,677.1 C138.18,645.35 106.51,627.28 122.34,592.22Z" fill="#0d0d0d" filter="url(#bl3)" opacity="0.93"/>
<path d="M1280,450 C1316.67,425 1353.33,418.33 1400,410 C1446.67,401.67 1510,393.33 1560,400 C1610,406.67 1666.67,416.67 1700,450 C1733.33,483.33 1743.33,565 1760,600 C1776.67,635 1796.67,630 1800,660 C1803.33,690 1796.67,740 1780,780 C1763.33,820 1723.33,866.67 1700,900 C1676.67,933.33 1656.67,956.67 1640,980 C1623.33,1003.33 1656.67,1036.67 1600,1040 C1543.33,1043.33 1383.33,1010 1300,1000 C1216.67,990 1141.67,993.33 1100,980 C1058.33,966.67 1041.67,950 1050,920 C1058.33,890 1138.33,836.67 1150,800 C1161.67,763.33 1115,740 1120,700 C1125,660 1153.33,601.67 1180,560 C1206.67,518.33 1243.33,475 1280,450Z" fill="#dedede" filter="url(#bl)"/>
<path d="M416,302 C414.67,276 453.83,241.5 473,236 C492.17,230.5 518.67,248.5 531,269 C543.33,289.5 555.33,338.5 547,359 C538.67,379.5 502.83,401.5 481,392 C459.17,382.5 417.33,328 416,302Z" fill="#666666" filter="url(#bl2)"/>
<path d="M360,795 C368.17,784 409.5,794.67 426,811 C442.5,827.33 459,871.17 459,893 C459,914.83 439.67,944.67 426,942 C412.33,939.33 388,901.5 377,877 C366,852.5 351.83,806 360,795Z" fill="#666666" filter="url(#bl2)"/>
</g></g>
<g filter="url(#grain)"><g transform="translate(929 962) scale(0.15022) translate(-35 -47)">
<path d="M1740,480 C1748.33,466.67 1783.33,433.33 1790,400 C1796.67,366.67 1778.33,318.33 1780,280 C1781.67,241.67 1792.5,200 1800,170 C1807.5,140 1820.83,111.67 1825,100" fill="none" stroke="#a0a0a0" stroke-width="68" stroke-linecap="round" stroke-linejoin="round"/>
<path d="M1650,990 C1666.67,993.33 1726.67,986.67 1750,1010 C1773.33,1033.33 1776.67,1091.67 1790,1130 C1803.33,1168.33 1816.67,1211.67 1830,1240 C1843.33,1268.33 1863.33,1290 1870,1300" fill="none" stroke="#b8b8b8" stroke-width="68" stroke-linecap="round" stroke-linejoin="round"/>
<path d="M1760,655 L1930,658 L1930,744 L1760,749Z" fill="#d4d4d4" filter="url(#bl2)"/>
</g></g>
<g transform="translate(929 962) scale(0.15022) translate(-35 -47)">
<ellipse cx="1630" cy="560" rx="125" ry="128" fill="url(#tOut)" transform="rotate(0 1630 560)"/>
<ellipse cx="1637" cy="548" rx="92" ry="92" fill="url(#tIn)" transform="rotate(0 1637 548)"/>
</g></g>
<clipPath id="c21"><rect x="35.3" y="1160.4" width="283.6" height="189.4"/></clipPath>
<g clip-path="url(#c21)">
<g filter="url(#fur0)">
<rect x="23.3" y="1148.4" width="307.6" height="213.4" fill="#3a3a3a"/>
<g transform="translate(35.3 1160.4) scale(0.15022) translate(-35 -47)">
<path d="M80,650 C118.33,575 243.33,408.33 380,350 C516.67,291.67 730,311.67 900,300 C1070,288.33 1263.33,263.33 1400,280 C1536.67,296.67 1661.67,280 1720,400 C1778.33,520 1786.67,883.33 1750,1000 C1713.33,1116.67 1658.33,1083.33 1500,1100 C1341.67,1116.67 975,1103.33 800,1100 C625,1096.67 558.33,1130 450,1080 C341.67,1030 211.67,871.67 150,800 C88.33,728.33 41.67,725 80,650Z" fill="#303030" filter="url(#bl3)"/>
<path d="M180,1000 C205,978.33 310,1013.33 330,1050 C350,1086.67 325,1198.33 300,1220 C275,1241.67 200,1216.67 180,1180 C160,1143.33 155,1021.67 180,1000Z" fill="#2e2e2e" filter="url(#bl2)"/>
<path d="M100,650 C108.33,608.33 153.33,541.67 200,500 C246.67,458.33 313.33,420 380,400 C446.67,380 513.33,390 600,380 C686.67,370 800,343.33 900,340 C1000,336.67 1125,361.67 1200,360 C1275,358.33 1328.33,323.33 1350,330 C1371.67,336.67 1341.67,371.67 1330,400 C1318.33,428.33 1318.33,473.33 1280,500 C1241.67,526.67 1146.67,540 1100,560 C1053.33,580 1015,586.67 1000,620 C985,653.33 990,726.67 1010,760 C1030,793.33 1096.67,786.67 1120,820 C1143.33,853.33 1111.67,921.67 1150,960 C1188.33,998.33 1300,1030 1350,1050 C1400,1070 1475,1078.33 1450,1080 C1425,1081.67 1308.33,1061.67 1200,1060 C1091.67,1058.33 916.67,1071.67 800,1070 C683.33,1068.33 563.33,1070 500,1050 C436.67,1030 453.33,983.33 420,950 C386.67,916.67 345,883.33 300,850 C255,816.67 183.33,783.33 150,750 C116.67,716.67 91.67,691.67 100,650Z" fill="#232323" filter="url(#bl)"/>
<path d="M100,650 C108.33,608.33 153.33,541.67 200,500 C246.67,458.33 313.33,420 380,400 C446.67,380 513.33,390 600,380 C686.67,370 800,343.33 900,340 C1000,336.67 1125,361.67 1200,360 C1275,358.33 1328.33,323.33 1350,330 C1371.67,336.67 1341.67,371.67 1330,400 C1318.33,428.33 1318.33,473.33 1280,500 C1241.67,526.67 1146.67,540 1100,560 C1053.33,580 1015,586.67 1000,620 C985,653.33 990,726.67 1010,760 C1030,793.33 1096.67,786.67 1120,820 C1143.33,853.33 1111.67,921.67 1150,960 C1188.33,998.33 1300,1030 1350,1050 C1400,1070 1475,1078.33 1450,1080 C1425,1081.67 1308.33,1061.67 1200,1060 C1091.67,1058.33 916.67,1071.67 800,1070 C683.33,1068.33 563.33,1070 500,1050 C436.67,1030 453.33,983.33 420,950 C386.67,916.67 345,883.33 300,850 C255,816.67 183.33,783.33 150,750 C116.67,716.67 91.67,691.67 100,650Z" fill="#000" filter="url(#hair)" opacity="0.6"/>
<path d="M122.93,652.59 C130.85,614.18 173.6,551.57 217.93,516.37 C262.27,481.17 325.6,453.09 388.93,441.38 C452.27,429.68 515.6,445.02 597.93,446.15 C680.27,447.28 787.93,440.16 882.93,448.14 C977.93,456.13 1096.68,486.56 1167.93,494.07 C1239.18,501.58 1289.85,487.1 1310.43,493.19 C1331.02,499.27 1302.52,515.42 1291.43,530.59 C1280.35,545.75 1280.35,570.74 1243.93,584.18 C1207.52,597.62 1117.27,600.74 1072.93,611.21 C1028.6,621.68 992.18,625.43 977.93,647 C963.68,668.57 968.43,719.02 987.43,740.62 C1006.43,762.22 1069.77,756.23 1091.93,776.59 C1114.1,796.94 1084.02,842.65 1120.43,862.75 C1156.85,882.85 1262.93,890.6 1310.43,897.19 C1357.93,903.77 1429.18,898.53 1405.43,902.25 C1381.68,905.98 1270.85,907.99 1167.93,919.51 C1065.02,931.04 898.77,959.78 787.93,971.41 C677.1,983.03 563.1,999.02 502.93,989.26 C442.77,979.51 458.6,938.86 426.93,912.88 C395.27,886.9 355.68,861.04 312.93,833.37 C270.18,805.7 202.1,776.97 170.43,746.84 C138.77,716.71 115.02,691 122.93,652.59Z" fill="#0d0d0d" filter="url(#bl3)" opacity="0.93"/>
<path d="M1280,500 C1318.33,473.33 1310,428.33 1330,400 C1350,371.67 1355,338.33 1400,330 C1445,321.67 1550,330 1600,350 C1650,370 1680,408.33 1700,450 C1720,491.67 1711.67,568.33 1720,600 C1728.33,631.67 1745,616.67 1750,640 C1755,663.33 1766.67,705 1750,740 C1733.33,775 1678.33,815 1650,850 C1621.67,885 1605,915 1580,950 C1555,985 1538.33,1043.33 1500,1060 C1461.67,1076.67 1408.33,1066.67 1350,1050 C1291.67,1033.33 1188.33,998.33 1150,960 C1111.67,921.67 1143.33,853.33 1120,820 C1096.67,786.67 1030,793.33 1010,760 C990,726.67 985,653.33 1000,620 C1015,586.67 1053.33,580 1100,560 C1146.67,540 1241.67,526.67 1280,500Z" fill="#dedede" filter="url(#bl)"/>
<path d="M433,434 C442.5,417.67 476.17,391.67 498,393 C519.83,394.33 558.5,422.83 564,442 C569.5,461.17 551.5,499.83 531,508 C510.5,516.17 457.33,503.33 441,491 C424.67,478.67 423.5,450.33 433,434Z" fill="#767676" filter="url(#bl2)"/>
<path d="M392,863 C405.67,850.83 452.17,863.67 474,872 C495.83,880.33 523,898 523,913 C523,928 490.5,947 474,962 C457.5,977 437.67,1005.83 424,1003 C410.33,1000.17 397.33,968.33 392,945 C386.67,921.67 378.33,875.17 392,863Z" fill="#909090" filter="url(#bl2)"/>
</g></g>
<g filter="url(#grain)"><g transform="translate(35.3 1160.4) scale(0.15022) translate(-35 -47)">
<path d="M1690,420 C1698.33,405 1726.67,366.67 1740,330 C1753.33,293.33 1757.5,241.67 1770,200 C1782.5,158.33 1807.5,100 1815,80" fill="none" stroke="#b8b8b8" stroke-width="68" stroke-linecap="round" stroke-linejoin="round"/>
<path d="M1610,930 C1628.33,931.67 1691.67,918.33 1720,940 C1748.33,961.67 1761.67,1020 1780,1060 C1798.33,1100 1815,1145 1830,1180 C1845,1215 1863.33,1255 1870,1270" fill="none" stroke="#a8a8a8" stroke-width="71" stroke-linecap="round" stroke-linejoin="round"/>
<path d="M1720,636 L1930,640 L1930,725 L1720,733Z" fill="#d0d0d0" filter="url(#bl2)"/>
</g></g>
<g transform="translate(35.3 1160.4) scale(0.15022) translate(-35 -47)">
<ellipse cx="1550" cy="525" rx="172" ry="182" fill="url(#tOut)" transform="rotate(-30 1550 525)"/>
<ellipse cx="1576" cy="520" rx="130" ry="128" fill="url(#tIn)" transform="rotate(-30 1576 520)"/>
</g></g>
<clipPath id="c22"><rect x="333.3" y="1160.4" width="283.6" height="189.4"/></clipPath>
<g clip-path="url(#c22)">
<g filter="url(#fur1)">
<rect x="321.3" y="1148.4" width="307.6" height="213.4" fill="#3a3a3a"/>
<g transform="translate(333.3 1160.4) scale(0.15022) translate(-35 -47)">
<path d="M350,450 C408.33,363.33 425,300 600,280 C775,260 1240,276.67 1400,330 C1560,383.33 1543.33,488.33 1560,600 C1576.67,711.67 1560,916.67 1500,1000 C1440,1083.33 1333.33,1070 1200,1100 C1066.67,1130 850,1180 700,1180 C550,1180 375,1163.33 300,1100 C225,1036.67 241.67,908.33 250,800 C258.33,691.67 291.67,536.67 350,450Z" fill="#333333" filter="url(#bl3)"/>
<path d="M350,700 C346.67,650 375,550 400,500 C425,450 450,416.67 500,400 C550,383.33 633.33,405 700,400 C766.67,395 833.33,373.33 900,370 C966.67,366.67 1058.33,366.67 1100,380 C1141.67,393.33 1153.33,420 1150,450 C1146.67,480 1096.67,526.67 1080,560 C1063.33,593.33 1060,623.33 1050,650 C1040,676.67 1015,691.67 1020,720 C1025,748.33 1076.67,790 1080,820 C1083.33,850 1048.33,870 1040,900 C1031.67,930 1053.33,980 1030,1000 C1006.67,1020 955,1021.67 900,1020 C845,1018.33 758.33,1010 700,990 C641.67,970 596.67,931.67 550,900 C503.33,868.33 453.33,833.33 420,800 C386.67,766.67 353.33,750 350,700Z" fill="#232323" filter="url(#bl)"/>
<path d="M350,700 C346.67,650 375,550 400,500 C425,450 450,416.67 500,400 C550,383.33 633.33,405 700,400 C766.67,395 833.33,373.33 900,370 C966.67,366.67 1058.33,366.67 1100,380 C1141.67,393.33 1153.33,420 1150,450 C1146.67,480 1096.67,526.67 1080,560 C1063.33,593.33 1060,623.33 1050,650 C1040,676.67 1015,691.67 1020,720 C1025,748.33 1076.67,790 1080,820 C1083.33,850 1048.33,870 1040,900 C1031.67,930 1053.33,980 1030,1000 C1006.67,1020 955,1021.67 900,1020 C845,1018.33 758.33,1010 700,990 C641.67,970 596.67,931.67 550,900 C503.33,868.33 453.33,833.33 420,800 C386.67,766.67 353.33,750 350,700Z" fill="#000" filter="url(#hair)" opacity="0.6"/>
<path d="M358.59,699 C355.42,653.02 382.34,557.55 406.09,513.73 C429.84,469.9 453.59,444.1 501.09,436.05 C548.59,428 627.75,458.96 691.09,465.45 C754.42,471.94 817.75,467.07 881.09,475.01 C944.42,482.96 1031.5,499.28 1071.09,513.12 C1110.67,526.97 1121.75,541.62 1118.59,558.1 C1115.42,574.58 1067.92,594.59 1052.09,611.99 C1036.25,629.39 1033.09,647.2 1023.59,662.52 C1014.09,677.85 990.34,687.79 995.09,703.93 C999.84,720.07 1048.92,741.78 1052.09,759.35 C1055.25,776.91 1022,790.9 1014.09,809.31 C1006.17,827.71 1026.75,853.84 1004.59,869.76 C982.42,885.68 933.34,896.86 881.09,904.82 C828.84,912.79 746.5,924.02 691.09,917.54 C635.67,911.05 592.92,887.22 548.59,865.9 C504.25,844.58 456.75,817.41 425.09,789.59 C393.42,761.77 361.75,744.98 358.59,699Z" fill="#0d0d0d" filter="url(#bl3)" opacity="0.93"/>
<path d="M1150,450 C1186.67,420 1250,390 1300,380 C1350,370 1408.33,370 1450,390 C1491.67,410 1531.67,461.67 1550,500 C1568.33,538.33 1548.33,595 1560,620 C1571.67,645 1613.33,630 1620,650 C1626.67,670 1613.33,706.67 1600,740 C1586.67,773.33 1560,815 1540,850 C1520,885 1503.33,923.33 1480,950 C1456.67,976.67 1446.67,995 1400,1010 C1353.33,1025 1261.67,1041.67 1200,1040 C1138.33,1038.33 1056.67,1023.33 1030,1000 C1003.33,976.67 1031.67,930 1040,900 C1048.33,870 1083.33,850 1080,820 C1076.67,790 1025,748.33 1020,720 C1015,691.67 1040,676.67 1050,650 C1060,623.33 1063.33,593.33 1080,560 C1096.67,526.67 1113.33,480 1150,450Z" fill="#dedede" filter="url(#bl)"/>
<path d="M465,403 C467.67,381.17 501.5,356.83 522,354 C542.5,351.17 577,368.33 588,386 C599,403.67 601.67,443.5 588,460 C574.33,476.5 526.5,494.5 506,485 C485.5,475.5 462.33,424.83 465,403Z" fill="#676767" filter="url(#bl2)"/>
<path d="M517,839 C517,813 558.33,802 583,806 C607.67,810 655.5,841.17 665,863 C674.5,884.83 653.67,920.5 640,937 C626.33,953.5 603.5,978.33 583,962 C562.5,945.67 517,865 517,839Z" fill="#9e9e9e" filter="url(#bl2)"/>
</g></g>
<g filter="url(#grain)"><g transform="translate(333.3 1160.4) scale(0.15022) translate(-35 -47)">
<path d="M1510,430 C1518.33,413.33 1545,368.33 1560,330 C1575,291.67 1587.5,238.33 1600,200 C1612.5,161.67 1629.17,116.67 1635,100" fill="none" stroke="#b8b8b8" stroke-width="78" stroke-linecap="round" stroke-linejoin="round"/>
<path d="M1490,930 C1501.67,933.33 1543.33,925 1560,950 C1576.67,975 1580,1038.33 1590,1080 C1600,1121.67 1615,1166.67 1620,1200 C1625,1233.33 1620,1266.67 1620,1280" fill="none" stroke="#b8b8b8" stroke-width="71" stroke-linecap="round" stroke-linejoin="round"/>
<path d="M1580,645 L1930,649 L1930,734 L1580,745Z" fill="#d0d0d0" filter="url(#bl2)"/>
</g></g>
<g transform="translate(333.3 1160.4) scale(0.15022) translate(-35 -47)">
<ellipse cx="1415" cy="540" rx="128" ry="148" fill="url(#tOut)" transform="rotate(-20 1415 540)"/>
<ellipse cx="1422" cy="530" rx="92" ry="92" fill="url(#tIn)" transform="rotate(-20 1422 530)"/>
<rect x="525" y="340" width="42" height="40" fill="#fff"/>
</g></g>
<clipPath id="c23"><rect x="631" y="1160.4" width="283.6" height="189.4"/></clipPath>
<g clip-path="url(#c23)">
<g filter="url(#fur2)">
<rect x="619" y="1148.4" width="307.6" height="213.4" fill="#3a3a3a"/>
<g transform="translate(631 1160.4) scale(0.15022) translate(-35 -47)">
<path d="M80,560 C125,476.67 283.33,255 420,200 C556.67,145 720,216.67 900,230 C1080,243.33 1370,243.33 1500,280 C1630,316.67 1655,363.33 1680,450 C1705,536.67 1655,691.67 1650,800 C1645,908.33 1691.67,1046.67 1650,1100 C1608.33,1153.33 1525,1136.67 1400,1120 C1275,1103.33 1066.67,1045 900,1000 C733.33,955 525,900 400,850 C275,800 203.33,748.33 150,700 C96.67,651.67 35,643.33 80,560Z" fill="#303030" filter="url(#bl3)"/>
<path d="M100,560 C108.33,518.33 196.67,451.67 250,400 C303.33,348.33 378.33,286.67 420,250 C461.67,213.33 461.67,185 500,180 C538.33,175 583.33,203.33 650,220 C716.67,236.67 825,261.67 900,280 C975,298.33 1066.67,313.33 1100,330 C1133.33,346.67 1091.67,360 1100,380 C1108.33,400 1166.67,430 1150,450 C1133.33,470 1025,471.67 1000,500 C975,528.33 983.33,590 1000,620 C1016.67,650 1075,653.33 1100,680 C1125,706.67 1150,751.67 1150,780 C1150,808.33 1091.67,830 1100,850 C1108.33,870 1150,883.33 1200,900 C1250,916.67 1353.33,933.33 1400,950 C1446.67,966.67 1496.67,991.67 1480,1000 C1463.33,1008.33 1380,1016.67 1300,1000 C1220,983.33 1100,928.33 1000,900 C900,871.67 783.33,851.67 700,830 C616.67,808.33 558.33,788.33 500,770 C441.67,751.67 400,740 350,720 C300,700 241.67,676.67 200,650 C158.33,623.33 91.67,601.67 100,560Z" fill="#232323" filter="url(#bl)"/>
<path d="M100,560 C108.33,518.33 196.67,451.67 250,400 C303.33,348.33 378.33,286.67 420,250 C461.67,213.33 461.67,185 500,180 C538.33,175 583.33,203.33 650,220 C716.67,236.67 825,261.67 900,280 C975,298.33 1066.67,313.33 1100,330 C1133.33,346.67 1091.67,360 1100,380 C1108.33,400 1166.67,430 1150,450 C1133.33,470 1025,471.67 1000,500 C975,528.33 983.33,590 1000,620 C1016.67,650 1075,653.33 1100,680 C1125,706.67 1150,751.67 1150,780 C1150,808.33 1091.67,830 1100,850 C1108.33,870 1150,883.33 1200,900 C1250,916.67 1353.33,933.33 1400,950 C1446.67,966.67 1496.67,991.67 1480,1000 C1463.33,1008.33 1380,1016.67 1300,1000 C1220,983.33 1100,928.33 1000,900 C900,871.67 783.33,851.67 700,830 C616.67,808.33 558.33,788.33 500,770 C441.67,751.67 400,740 350,720 C300,700 241.67,676.67 200,650 C158.33,623.33 91.67,601.67 100,560Z" fill="#000" filter="url(#hair)" opacity="0.6"/>
<path d="M122.72,562.87 C130.63,525.11 214.55,463.91 265.22,420.79 C315.88,377.67 387.13,331.76 426.72,304.15 C466.3,276.54 466.3,254.74 502.72,255.12 C539.13,255.49 581.88,285.74 645.22,306.39 C708.55,327.04 811.47,358.11 882.72,379.02 C953.97,399.92 1041.05,417.65 1072.72,431.84 C1104.38,446.02 1064.8,450.78 1072.72,464.12 C1080.63,477.46 1136.05,499.54 1120.22,511.86 C1104.38,524.18 1001.47,520.14 977.72,538.02 C953.97,555.91 961.88,599.19 977.72,619.16 C993.55,639.12 1048.97,641.02 1072.72,657.81 C1096.47,674.61 1120.22,701.61 1120.22,719.91 C1120.22,738.2 1064.8,755.68 1072.72,767.58 C1080.63,779.47 1120.22,785.56 1167.72,791.26 C1215.22,796.96 1313.38,796.95 1357.72,801.77 C1402.05,806.59 1449.55,813.61 1433.72,820.17 C1417.88,826.73 1338.72,843.09 1262.72,841.13 C1186.72,839.18 1072.72,818.56 977.72,808.46 C882.72,798.36 771.88,791.32 692.72,780.55 C613.55,769.77 558.13,756.04 502.72,743.79 C447.3,731.54 407.72,723.13 360.22,707.06 C312.72,690.99 257.3,671.41 217.72,647.38 C178.13,623.34 114.8,600.63 122.72,562.87Z" fill="#0d0d0d" filter="url(#bl3)" opacity="0.93"/>
<path d="M1150,450 C1191.67,426.67 1200,381.67 1250,360 C1300,338.33 1400,313.33 1450,320 C1500,326.67 1518.33,370 1550,400 C1581.67,430 1623.33,463.33 1640,500 C1656.67,536.67 1640,595 1650,620 C1660,645 1700,630 1700,650 C1700,670 1666.67,715 1650,740 C1633.33,765 1621.67,773.33 1600,800 C1578.33,826.67 1540,866.67 1520,900 C1500,933.33 1500,991.67 1480,1000 C1460,1008.33 1446.67,966.67 1400,950 C1353.33,933.33 1250,916.67 1200,900 C1150,883.33 1108.33,870 1100,850 C1091.67,830 1150,808.33 1150,780 C1150,751.67 1125,706.67 1100,680 C1075,653.33 1016.67,650 1000,620 C983.33,590 975,528.33 1000,500 C1025,471.67 1108.33,473.33 1150,450Z" fill="#dedede" filter="url(#bl)"/>
<path d="M448,237 C450.67,212.5 497.83,193.33 521,196 C544.17,198.67 576,232.5 587,253 C598,273.5 600.67,304 587,319 C573.33,334 528.17,356.67 505,343 C481.83,329.33 445.33,261.5 448,237Z" fill="#898989" filter="url(#bl2)"/>
<path d="M416,625 C416,607.17 460.17,584 482,584 C503.83,584 538.83,600.33 547,625 C555.17,649.67 541.83,721 531,732 C520.17,743 501.17,708.83 482,691 C462.83,673.17 416,642.83 416,625Z" fill="#828282" filter="url(#bl2)"/>
</g></g>
<g filter="url(#grain)"><g transform="translate(631 1160.4) scale(0.15022) translate(-35 -47)">
<path d="M1650,430 C1658.33,418.33 1688.33,395 1700,360 C1711.67,325 1712.5,268.33 1720,220 C1727.5,171.67 1740.83,95 1745,70" fill="none" stroke="#b8b8b8" stroke-width="68" stroke-linecap="round" stroke-linejoin="round"/>
<path d="M1510,990 C1525,998.33 1576.67,1013.33 1600,1040 C1623.33,1066.67 1633.33,1115 1650,1150 C1666.67,1185 1688.33,1225 1700,1250 C1711.67,1275 1716.67,1291.67 1720,1300" fill="none" stroke="#b8b8b8" stroke-width="68" stroke-linecap="round" stroke-linejoin="round"/>
<path d="M1660,644 L1930,647 L1930,728 L1660,737Z" fill="#d0d0d0" filter="url(#bl2)"/>
</g></g>
<g transform="translate(631 1160.4) scale(0.15022) translate(-35 -47)">
<ellipse cx="1515" cy="525" rx="138" ry="122" fill="url(#tOut)" transform="rotate(0 1515 525)"/>
<ellipse cx="1520" cy="512" rx="92" ry="75" fill="url(#tIn)" transform="rotate(0 1520 512)"/>
</g></g>
<clipPath id="c24"><rect x="929" y="1160.4" width="283.6" height="189.4"/></clipPath>
<g clip-path="url(#c24)">
<g filter="url(#fur0)">
<rect x="917" y="1148.4" width="307.6" height="213.4" fill="#3a3a3a"/>
<g transform="translate(929 1160.4) scale(0.15022) translate(-35 -47)">
<path d="M80,540 C113.33,453.33 246.67,328.33 400,280 C553.33,231.67 816.67,250 1000,250 C1183.33,250 1380,255 1500,280 C1620,305 1676.67,280 1720,400 C1763.33,520 1780,875 1760,1000 C1740,1125 1726.67,1133.33 1600,1150 C1473.33,1166.67 1191.67,1125 1000,1100 C808.33,1075 583.33,1050 450,1000 C316.67,950 261.67,876.67 200,800 C138.33,723.33 46.67,626.67 80,540Z" fill="#303030" filter="url(#bl3)"/>
<path d="M300,100 C363.33,41.67 488.33,33.33 480,100 C471.67,166.67 313.33,441.67 250,500 C186.67,558.33 91.67,516.67 100,450 C108.33,383.33 236.67,158.33 300,100Z" fill="#343434" filter="url(#bl3)"/>
<path d="M180,900 C208.33,883.33 330,920 350,950 C370,980 328.33,1063.33 300,1080 C271.67,1096.67 200,1080 180,1050 C160,1020 151.67,916.67 180,900Z" fill="#343434" filter="url(#bl2)"/>
<path d="M100,540 C116.67,501.67 200,455 250,420 C300,385 361.67,361.67 400,330 C438.33,298.33 446.67,243.33 480,230 C513.33,216.67 563.33,238.33 600,250 C636.67,261.67 633.33,291.67 700,300 C766.67,308.33 883.33,296.67 1000,300 C1116.67,303.33 1291.67,306.67 1400,320 C1508.33,333.33 1613.33,333.33 1650,380 C1686.67,426.67 1628.33,486.67 1620,600 C1611.67,713.33 1620,971.67 1600,1060 C1580,1148.33 1600,1131.67 1500,1130 C1400,1128.33 1133.33,1071.67 1000,1050 C866.67,1028.33 791.67,1016.67 700,1000 C608.33,983.33 516.67,983.33 450,950 C383.33,916.67 350,850 300,800 C250,750 183.33,693.33 150,650 C116.67,606.67 83.33,578.33 100,540Z" fill="#232323" filter="url(#bl)"/>
<path d="M100,540 C116.67,501.67 200,455 250,420 C300,385 361.67,361.67 400,330 C438.33,298.33 446.67,243.33 480,230 C513.33,216.67 563.33,238.33 600,250 C636.67,261.67 633.33,291.67 700,300 C766.67,308.33 883.33,296.67 1000,300 C1116.67,303.33 1291.67,306.67 1400,320 C1508.33,333.33 1613.33,333.33 1650,380 C1686.67,426.67 1628.33,486.67 1620,600 C1611.67,713.33 1620,971.67 1600,1060 C1580,1148.33 1600,1131.67 1500,1130 C1400,1128.33 1133.33,1071.67 1000,1050 C866.67,1028.33 791.67,1016.67 700,1000 C608.33,983.33 516.67,983.33 450,950 C383.33,916.67 350,850 300,800 C250,750 183.33,693.33 150,650 C116.67,606.67 83.33,578.33 100,540Z" fill="#000" filter="url(#hair)" opacity="0.6"/>
<path d="M120.88,543.32 C136.72,508.27 215.88,466.41 263.38,436.9 C310.88,407.4 369.47,391.18 405.88,366.3 C442.3,341.41 450.22,295.95 481.88,287.59 C513.55,279.22 561.05,303.19 595.88,316.12 C630.72,329.05 627.55,352.83 690.88,365.15 C754.22,377.47 865.05,378.38 975.88,390.06 C1086.72,401.74 1252.97,419.17 1355.88,435.24 C1458.8,451.3 1558.55,458.48 1593.38,486.44 C1628.22,514.4 1572.8,541.9 1564.88,602.99 C1556.97,664.08 1564.88,802.61 1545.88,852.99 C1526.88,903.36 1545.88,894.11 1450.88,905.22 C1355.88,916.33 1102.55,917.81 975.88,919.66 C849.22,921.51 777.97,919.58 690.88,916.34 C603.8,913.11 516.72,922.99 453.38,900.24 C390.05,877.49 358.38,822 310.88,779.84 C263.38,737.67 200.05,686.65 168.38,647.23 C136.72,607.82 105.05,578.38 120.88,543.32Z" fill="#0d0d0d" filter="url(#bl3)" opacity="0.93"/>
<path d="M1200,430 C1226.67,410 1340,406.67 1400,400 C1460,393.33 1513.33,376.67 1560,390 C1606.67,403.33 1653.33,445 1680,480 C1706.67,515 1700,565 1720,600 C1740,635 1790,660 1800,690 C1810,720 1796.67,745 1780,780 C1763.33,815 1726.67,863.33 1700,900 C1673.33,936.67 1636.67,973.33 1620,1000 C1603.33,1026.67 1620,1055 1600,1060 C1580,1065 1566.67,1040 1500,1030 C1433.33,1020 1270,1013.33 1200,1000 C1130,986.67 1103.33,975 1080,950 C1056.67,925 1046.67,878.33 1060,850 C1073.33,821.67 1148.33,805 1160,780 C1171.67,755 1131.67,730 1130,700 C1128.33,670 1131.67,630 1150,600 C1168.33,570 1231.67,548.33 1240,520 C1248.33,491.67 1173.33,450 1200,430Z" fill="#dedede" filter="url(#bl)"/>
<path d="M446,292 C446,267.5 482.5,243.17 503,235 C523.5,226.83 555.33,221.17 569,243 C582.67,264.83 596,342.83 585,366 C574,389.17 526.17,394.33 503,382 C479.83,369.67 446,316.5 446,292Z" fill="#676767" filter="url(#bl2)"/>
<path d="M343,802 C340.33,769.17 367.67,744.17 384,736 C400.33,727.83 430.17,735.17 441,753 C451.83,770.83 455.83,813 449,843 C442.17,873 417.67,939.83 400,933 C382.33,926.17 345.67,834.83 343,802Z" fill="#747474" filter="url(#bl2)"/>
</g></g>
<g filter="url(#grain)"><g transform="translate(929 1160.4) scale(0.15022) translate(-35 -47)">
<path d="M1730,490 C1741.67,481.67 1788.33,471.67 1800,440 C1811.67,408.33 1799.17,343.33 1800,300 C1800.83,256.67 1800,211.67 1805,180 C1810,148.33 1825.83,121.67 1830,110" fill="none" stroke="#a8a8a8" stroke-width="74" stroke-linecap="round" stroke-linejoin="round"/>
<path d="M1670,960 C1683.33,965 1730,966.67 1750,990 C1770,1013.33 1776.67,1061.67 1790,1100 C1803.33,1138.33 1816.67,1188.33 1830,1220 C1843.33,1251.67 1863.33,1278.33 1870,1290" fill="none" stroke="#b8b8b8" stroke-width="68" stroke-linecap="round" stroke-linejoin="round"/>
<path d="M1760,684 L1930,687 L1930,767 L1760,773Z" fill="#d0d0d0" filter="url(#bl2)"/>
</g></g>
<g transform="translate(929 1160.4) scale(0.15022) translate(-35 -47)">
<ellipse cx="1615" cy="528" rx="90" ry="102" fill="url(#tOut)" transform="rotate(-20 1615 528)"/>
<ellipse cx="1610" cy="528" rx="60" ry="62" fill="url(#tIn)" transform="rotate(-20 1610 528)"/>
</g></g>
<clipPath id="c31"><rect x="34.1" y="1358.5" width="282.6" height="189.3"/></clipPath>
<g clip-path="url(#c31)">
<g filter="url(#fur1)">
<rect x="22.1" y="1346.5" width="306.6" height="213.3" fill="#383838"/>
<g transform="translate(34.1 1358.5) scale(0.15022) translate(-27 -50)">
<path d="M160,190 C176.67,131.67 250,65 330,40 C410,15 580,11.67 640,40 C700,68.33 758.33,151.67 690,210 C621.67,268.33 318.33,393.33 230,390 C141.67,386.67 143.33,248.33 160,190Z" fill="#646464" filter="url(#bl2)"/>
<path d="M1420,40 C1506.67,10 1843.33,-11.67 1910,40 C1976.67,91.67 1871.67,311.67 1820,350 C1768.33,388.33 1671.67,291.67 1600,270 C1528.33,248.33 1420,258.33 1390,220 C1360,181.67 1333.33,70 1420,40Z" fill="#787878" filter="url(#bl2)"/>
<path d="M300,1320 C246.67,1288.33 363.33,1130 440,1130 C516.67,1130 783.33,1288.33 760,1320 C736.67,1351.67 353.33,1351.67 300,1320Z" fill="#6a6a6a" filter="url(#bl2)"/>
<path d="M1580,1320 C1550,1286.67 1683.33,1131.67 1740,1120 C1796.67,1108.33 1890,1216.67 1920,1250 C1950,1283.33 1976.67,1308.33 1920,1320 C1863.33,1331.67 1610,1353.33 1580,1320Z" fill="#5e5e5e" filter="url(#bl2)"/>
<path d="M1580,350 C1625,321.67 1863.33,263.33 1920,330 C1976.67,396.67 1960,685 1920,750 C1880,815 1725,761.67 1680,720 C1635,678.33 1666.67,561.67 1650,500 C1633.33,438.33 1535,378.33 1580,350Z" fill="#272727" filter="url(#bl2)"/>
<path d="M1480,1000 C1463.33,950 1526.67,871.67 1600,850 C1673.33,828.33 1866.67,811.67 1920,870 C1973.33,928.33 1956.67,1153.33 1920,1200 C1883.33,1246.67 1773.33,1183.33 1700,1150 C1626.67,1116.67 1496.67,1050 1480,1000Z" fill="#272727" filter="url(#bl2)"/>
<path d="M150,650 C166.67,558.33 325,403.33 450,350 C575,296.67 758.33,321.67 900,330 C1041.67,338.33 1241.67,271.67 1300,400 C1358.33,528.33 1208.33,966.67 1250,1100 C1291.67,1233.33 1575,1200 1550,1200 C1525,1200 1241.67,1133.33 1100,1100 C958.33,1066.67 825,1033.33 700,1000 C575,966.67 441.67,958.33 350,900 C258.33,841.67 133.33,741.67 150,650Z" fill="#262626" filter="url(#bl3)"/>
<path d="M170,650 C178.33,608.33 253.33,538.33 300,500 C346.67,461.67 383.33,433.33 450,420 C516.67,406.67 625,418.33 700,420 C775,421.67 858.33,406.67 900,430 C941.67,453.33 958.33,523.33 950,560 C941.67,596.67 841.67,623.33 850,650 C858.33,676.67 961.67,686.67 1000,720 C1038.33,753.33 1055,811.67 1080,850 C1105,888.33 1163.33,928.33 1150,950 C1136.67,971.67 1058.33,980 1000,980 C941.67,980 866.67,963.33 800,950 C733.33,936.67 666.67,921.67 600,900 C533.33,878.33 458.33,845 400,820 C341.67,795 288.33,778.33 250,750 C211.67,721.67 161.67,691.67 170,650Z" fill="#232323" filter="url(#bl3)"/>
<path d="M170,650 C178.33,608.33 253.33,538.33 300,500 C346.67,461.67 383.33,433.33 450,420 C516.67,406.67 625,418.33 700,420 C775,421.67 858.33,406.67 900,430 C941.67,453.33 958.33,523.33 950,560 C941.67,596.67 841.67,623.33 850,650 C858.33,676.67 961.67,686.67 1000,720 C1038.33,753.33 1055,811.67 1080,850 C1105,888.33 1163.33,928.33 1150,950 C1136.67,971.67 1058.33,980 1000,980 C941.67,980 866.67,963.33 800,950 C733.33,936.67 666.67,921.67 600,900 C533.33,878.33 458.33,845 400,820 C341.67,795 288.33,778.33 250,750 C211.67,721.67 161.67,691.67 170,650Z" fill="#000" filter="url(#hair)" opacity="0.6"/>
<path d="M181.83,652.67 C189.75,615.24 261,552.25 305.33,521.5 C349.67,490.75 384.5,472 447.83,468.17 C511.17,464.34 614.08,488.35 685.33,498.52 C756.58,508.69 835.75,509.75 875.33,529.18 C914.92,548.61 930.75,591.91 922.83,615.08 C914.92,638.25 819.92,651.85 827.83,668.21 C835.75,684.57 933.92,693.7 970.33,713.24 C1006.75,732.78 1022.58,765.33 1046.33,785.47 C1070.08,805.6 1125.5,820.35 1112.83,834.07 C1100.17,847.78 1025.75,861.59 970.33,867.75 C914.92,873.92 843.67,873.37 780.33,871.07 C717,868.76 653.67,865.32 590.33,853.92 C527,842.52 455.75,820.64 400.33,802.67 C344.92,784.69 294.25,771.07 257.83,746.07 C221.42,721.07 173.92,690.1 181.83,652.67Z" fill="#0d0d0d" filter="url(#bl3)" opacity="0.93"/>
<path d="M950,580 C966.67,553.33 1050,570 1100,560 C1150,550 1208.33,540 1250,520 C1291.67,500 1316.67,462.5 1350,440 C1383.33,417.5 1415,393.33 1450,385 C1485,376.67 1535,370.83 1560,390 C1585,409.17 1585,448.33 1600,500 C1615,551.67 1633.33,656.67 1650,700 C1666.67,743.33 1695,733.33 1700,760 C1705,786.67 1705,828.33 1680,860 C1655,891.67 1588.33,926.67 1550,950 C1511.67,973.33 1470,975 1450,1000 C1430,1025 1455,1086.67 1430,1100 C1405,1113.33 1330,1096.67 1300,1080 C1270,1063.33 1275,1021.67 1250,1000 C1225,978.33 1178.33,975 1150,950 C1121.67,925 1105,888.33 1080,850 C1055,811.67 1021.67,765 1000,720 C978.33,675 933.33,606.67 950,580Z" fill="#dedede" filter="url(#bl)"/>
<path d="M494,309 C510.33,288.5 585.67,279.33 609,293 C632.33,306.67 650.33,370.5 634,391 C617.67,411.5 534.33,429.67 511,416 C487.67,402.33 477.67,329.5 494,309Z" fill="#4d4d4d" filter="url(#bl2)"/>
<path d="M434,794 C443.67,780.33 494.17,777.5 516,794 C537.83,810.5 565,867 565,893 C565,919 533.83,952.83 516,950 C498.17,947.17 471.67,902 458,876 C444.33,850 424.33,807.67 434,794Z" fill="#767676" filter="url(#bl2)"/>
<path d="M590,295 C600,285 655,279.17 670,285 C685,290.83 690,320 680,330 C670,340 625,350.83 610,345 C595,339.17 580,305 590,295Z" fill="#e8e8e8"/>
</g></g>
<g filter="url(#grain)"><g transform="translate(34.1 1358.5) scale(0.15022) translate(-27 -50)">
<path d="M1640,728 L1920,790 L1920,867 L1640,829Z" fill="#c8c8c8" filter="url(#bl2)"/>
</g></g>
<g transform="translate(34.1 1358.5) scale(0.15022) translate(-27 -50)">
<ellipse cx="1495" cy="570" rx="165" ry="240" fill="url(#tOut)" transform="rotate(-22 1495 570)"/>
<ellipse cx="1522" cy="572" rx="122" ry="140" fill="url(#tIn)" transform="rotate(-22 1522 572)"/>
</g></g>
<clipPath id="c32"><rect x="331" y="1358.5" width="283.6" height="189.3"/></clipPath>
<g clip-path="url(#c32)">
<g filter="url(#fur2)">
<rect x="319" y="1346.5" width="307.6" height="213.3" fill="#3a3a3a"/>
<g transform="translate(331 1358.5) scale(0.15022) translate(-20 -50)">
<path d="M60,740 C90,668.33 206.67,493.33 330,420 C453.33,346.67 613.33,323.33 800,300 C986.67,276.67 1303.33,263.33 1450,280 C1596.67,296.67 1638.33,280 1680,400 C1721.67,520 1730,880 1700,1000 C1670,1120 1633.33,1113.33 1500,1120 C1366.67,1126.67 1075,1063.33 900,1040 C725,1016.67 575,1011.67 450,980 C325,948.33 215,890 150,850 C85,810 30,811.67 60,740Z" fill="#303030" filter="url(#bl3)"/>
<path d="M230,160 C263.33,103.33 368.33,106.67 380,160 C391.67,213.33 333.33,423.33 300,480 C266.67,536.67 191.67,553.33 180,500 C168.33,446.67 196.67,216.67 230,160Z" fill="#333333" filter="url(#bl3)"/>
<path d="M80,740 C93.33,706.67 158.33,643.33 200,600 C241.67,556.67 288.33,516.67 330,480 C371.67,443.33 405,401.67 450,380 C495,358.33 541.67,355 600,350 C658.33,345 733.33,345 800,350 C866.67,355 950,363.33 1000,380 C1050,396.67 1096.67,420 1100,450 C1103.33,480 1045,526.67 1020,560 C995,593.33 953.33,621.67 950,650 C946.67,678.33 988.33,705 1000,730 C1011.67,755 1023.33,771.67 1020,800 C1016.67,828.33 975,873.33 980,900 C985,926.67 1013.33,943.33 1050,960 C1086.67,976.67 1225,993.33 1200,1000 C1175,1006.67 983.33,1003.33 900,1000 C816.67,996.67 775,993.33 700,980 C625,966.67 525,941.67 450,920 C375,898.33 305,870 250,850 C195,830 148.33,818.33 120,800 C91.67,781.67 66.67,773.33 80,740Z" fill="#232323" filter="url(#bl)"/>
<path d="M80,740 C93.33,706.67 158.33,643.33 200,600 C241.67,556.67 288.33,516.67 330,480 C371.67,443.33 405,401.67 450,380 C495,358.33 541.67,355 600,350 C658.33,345 733.33,345 800,350 C866.67,355 950,363.33 1000,380 C1050,396.67 1096.67,420 1100,450 C1103.33,480 1045,526.67 1020,560 C995,593.33 953.33,621.67 950,650 C946.67,678.33 988.33,705 1000,730 C1011.67,755 1023.33,771.67 1020,800 C1016.67,828.33 975,873.33 980,900 C985,926.67 1013.33,943.33 1050,960 C1086.67,976.67 1225,993.33 1200,1000 C1175,1006.67 983.33,1003.33 900,1000 C816.67,996.67 775,993.33 700,980 C625,966.67 525,941.67 450,920 C375,898.33 305,870 250,850 C195,830 148.33,818.33 120,800 C91.67,781.67 66.67,773.33 80,740Z" fill="#000" filter="url(#hair)" opacity="0.6"/>
<path d="M96.5,737.7 C109.17,707 170.92,646.75 210.5,608.93 C250.08,571.11 294.42,539.04 334,510.76 C373.58,482.49 405.25,452.01 448,439.27 C490.75,426.52 535.08,430.81 590.5,434.28 C645.92,437.75 717.17,448.46 780.5,460.08 C843.83,471.71 923,488.12 970.5,504.03 C1018,519.94 1062.33,537.21 1065.5,555.53 C1068.67,573.85 1013.25,595.43 989.5,613.94 C965.75,632.44 926.17,649.58 923,666.55 C919.83,683.53 959.42,700.65 970.5,715.78 C981.58,730.91 992.67,739.94 989.5,757.34 C986.33,774.73 946.75,804.74 951.5,820.17 C956.25,835.61 983.17,843.94 1018,849.94 C1052.83,855.94 1184.25,849.4 1160.5,856.18 C1136.75,862.96 954.67,883.43 875.5,890.61 C796.33,897.78 756.75,901.42 685.5,899.2 C614.25,896.99 519.25,888.5 448,877.34 C376.75,866.18 310.25,846.29 258,832.25 C205.75,818.22 161.42,808.87 134.5,793.11 C107.58,777.35 83.83,768.4 96.5,737.7Z" fill="#0d0d0d" filter="url(#bl3)" opacity="0.93"/>
<path d="M1100,450 C1138.33,420 1191.67,396.67 1250,380 C1308.33,363.33 1391.67,346.67 1450,350 C1508.33,353.33 1568.33,371.67 1600,400 C1631.67,428.33 1631.67,486.67 1640,520 C1648.33,553.33 1636.67,578.33 1650,600 C1663.33,621.67 1711.67,623.33 1720,650 C1728.33,676.67 1716.67,726.67 1700,760 C1683.33,793.33 1640,818.33 1620,850 C1600,881.67 1590,916.67 1580,950 C1570,983.33 1581.67,1028.33 1560,1050 C1538.33,1071.67 1493.33,1081.67 1450,1080 C1406.67,1078.33 1341.67,1053.33 1300,1040 C1258.33,1026.67 1241.67,1013.33 1200,1000 C1158.33,986.67 1086.67,976.67 1050,960 C1013.33,943.33 985,926.67 980,900 C975,873.33 1016.67,828.33 1020,800 C1023.33,771.67 1011.67,755 1000,730 C988.33,705 946.67,678.33 950,650 C953.33,621.67 995,593.33 1020,560 C1045,526.67 1061.67,480 1100,450Z" fill="#dedede" filter="url(#bl)"/>
<path d="M364,486 C361.33,462.83 387.17,390.33 405,363 C422.83,335.67 457.33,308.33 471,322 C484.67,335.67 495.33,415 487,445 C478.67,475 441.5,495.17 421,502 C400.5,508.83 366.67,509.17 364,486Z" fill="#7b7b7b" filter="url(#bl2)"/>
<path d="M398,801 C402,779.17 418.5,742.17 439,727 C459.5,711.83 497.67,700.5 521,710 C544.33,719.5 572.17,758 579,784 C585.83,810 579.83,848.17 562,866 C544.17,883.83 496.5,892.33 472,891 C447.5,889.67 427.33,873 415,858 C402.67,843 394,822.83 398,801Z" fill="#979797" filter="url(#bl2)"/>
</g></g>
<g filter="url(#grain)"><g transform="translate(331 1358.5) scale(0.15022) translate(-20 -50)">
<path d="M1630,450 C1645,443.33 1704.17,438.33 1720,410 C1735.83,381.67 1724.17,320 1725,280 C1725.83,240 1717.5,200 1725,170 C1732.5,140 1762.5,111.67 1770,100" fill="none" stroke="#b8b8b8" stroke-width="74" stroke-linecap="round" stroke-linejoin="round"/>
<path d="M1590,1010 C1608.33,1008.33 1679.17,981.67 1700,1000 C1720.83,1018.33 1711.67,1078.33 1715,1120 C1718.33,1161.67 1718.33,1216.67 1720,1250 C1721.67,1283.33 1724.17,1308.33 1725,1320" fill="none" stroke="#b8b8b8" stroke-width="71" stroke-linecap="round" stroke-linejoin="round"/>
<path d="M1690,646 L1920,650 L1920,735 L1690,747Z" fill="#d4d4d4" filter="url(#bl2)"/>
</g></g>
<g transform="translate(331 1358.5) scale(0.15022) translate(-20 -50)">
<ellipse cx="1465" cy="502" rx="172" ry="162" fill="url(#tOut)" transform="rotate(10 1465 502)"/>
<ellipse cx="1470" cy="482" rx="128" ry="105" fill="url(#tIn)" transform="rotate(10 1470 482)"/>
</g></g>
<clipPath id="c33"><rect x="629" y="1358.5" width="282" height="189.3"/></clipPath>
<g clip-path="url(#c33)">
<g filter="url(#fur0)">
<rect x="617" y="1346.5" width="306" height="213.3" fill="#3a3a3a"/>
<g transform="translate(629 1358.5) scale(0.15022) translate(-20 -50)">
<path d="M260,600 C255,488.33 296.67,296.67 420,230 C543.33,163.33 820,191.67 1000,200 C1180,208.33 1400,213.33 1500,280 C1600,346.67 1608.33,480 1600,600 C1591.67,720 1508.33,916.67 1450,1000 C1391.67,1083.33 1358.33,1086.67 1250,1100 C1141.67,1113.33 933.33,1113.33 800,1080 C666.67,1046.67 540,980 450,900 C360,820 265,711.67 260,600Z" fill="#303030" filter="url(#bl3)"/>
<path d="M220,850 C245,820 373.33,775 400,800 C426.67,825 405,970 380,1000 C355,1030 276.67,1005 250,980 C223.33,955 195,880 220,850Z" fill="#333333" filter="url(#bl3)"/>
<path d="M300,600 C300,558.33 325,500 350,450 C375,400 408.33,331.67 450,300 C491.67,268.33 541.67,263.33 600,260 C658.33,256.67 733.33,281.67 800,280 C866.67,278.33 941.67,250 1000,250 C1058.33,250 1141.67,258.33 1150,280 C1158.33,301.67 1083.33,346.67 1050,380 C1016.67,413.33 958.33,443.33 950,480 C941.67,516.67 978.33,563.33 1000,600 C1021.67,636.67 1063.33,666.67 1080,700 C1096.67,733.33 1113.33,770 1100,800 C1086.67,830 1000,855 1000,880 C1000,905 1050,933.33 1100,950 C1150,966.67 1283.33,963.33 1300,980 C1316.67,996.67 1266.67,1038.33 1200,1050 C1133.33,1061.67 983.33,1066.67 900,1050 C816.67,1033.33 766.67,983.33 700,950 C633.33,916.67 558.33,891.67 500,850 C441.67,808.33 383.33,741.67 350,700 C316.67,658.33 300,641.67 300,600Z" fill="#232323" filter="url(#bl)"/>
<path d="M300,600 C300,558.33 325,500 350,450 C375,400 408.33,331.67 450,300 C491.67,268.33 541.67,263.33 600,260 C658.33,256.67 733.33,281.67 800,280 C866.67,278.33 941.67,250 1000,250 C1058.33,250 1141.67,258.33 1150,280 C1158.33,301.67 1083.33,346.67 1050,380 C1016.67,413.33 958.33,443.33 950,480 C941.67,516.67 978.33,563.33 1000,600 C1021.67,636.67 1063.33,666.67 1080,700 C1096.67,733.33 1113.33,770 1100,800 C1086.67,830 1000,855 1000,880 C1000,905 1050,933.33 1100,950 C1150,966.67 1283.33,963.33 1300,980 C1316.67,996.67 1266.67,1038.33 1200,1050 C1133.33,1061.67 983.33,1066.67 900,1050 C816.67,1033.33 766.67,983.33 700,950 C633.33,916.67 558.33,891.67 500,850 C441.67,808.33 383.33,741.67 350,700 C316.67,658.33 300,641.67 300,600Z" fill="#000" filter="url(#hair)" opacity="0.6"/>
<path d="M312.2,601.98 C312.2,563.27 335.95,507.39 359.7,463.45 C383.45,419.52 415.12,361.14 454.7,338.36 C494.28,315.59 541.78,320.94 597.2,326.79 C652.62,332.64 723.87,363.94 787.2,373.47 C850.53,383 921.78,375.18 977.2,383.99 C1032.62,392.8 1111.78,411.19 1119.7,426.32 C1127.62,441.44 1056.37,457.18 1024.7,474.72 C993.03,492.25 937.62,508.37 929.7,531.52 C921.78,554.66 956.62,589.32 977.2,613.59 C997.78,637.86 1037.37,656.41 1053.2,677.16 C1069.03,697.9 1084.87,718.03 1072.2,738.05 C1059.53,758.07 977.2,781.92 977.2,797.27 C977.2,812.62 1024.7,826.36 1072.2,830.15 C1119.7,833.93 1246.37,812.61 1262.2,819.97 C1278.03,827.32 1230.53,856.63 1167.2,874.31 C1103.87,891.98 961.37,924.69 882.2,926.03 C803.03,927.36 755.53,899.68 692.2,882.31 C628.87,864.94 557.62,852.89 502.2,821.79 C446.78,790.69 391.37,732.34 359.7,695.7 C328.03,659.07 312.2,640.68 312.2,601.98Z" fill="#0d0d0d" filter="url(#bl3)" opacity="0.93"/>
<path d="M1050,380 C1083.33,355 1108.33,343.33 1150,330 C1191.67,316.67 1250,300 1300,300 C1350,300 1410,305 1450,330 C1490,355 1521.67,405 1540,450 C1558.33,495 1550,571.67 1560,600 C1570,628.33 1610,603.33 1600,620 C1590,636.67 1530,670 1500,700 C1470,730 1440,766.67 1420,800 C1400,833.33 1400,870 1380,900 C1360,930 1346.67,971.67 1300,980 C1253.33,988.33 1150,966.67 1100,950 C1050,933.33 1000,905 1000,880 C1000,855 1086.67,830 1100,800 C1113.33,770 1096.67,733.33 1080,700 C1063.33,666.67 1021.67,636.67 1000,600 C978.33,563.33 941.67,516.67 950,480 C958.33,443.33 1016.67,405 1050,380Z" fill="#dedede" filter="url(#bl)"/>
<path d="M473,207 C483.83,194.67 533.17,192.17 555,199 C576.83,205.83 604,233 604,248 C604,263 574,284.83 555,289 C536,293.17 503.67,286.67 490,273 C476.33,259.33 462.17,219.33 473,207Z" fill="#676767" filter="url(#bl2)"/>
<path d="M437,684 C439.67,665 477.5,635 502,635 C526.5,635 573,662.17 584,684 C595,705.83 584.33,755.17 568,766 C551.67,776.83 507.83,762.67 486,749 C464.17,735.33 434.33,703 437,684Z" fill="#a5a5a5" filter="url(#bl2)"/>
</g></g>
<g filter="url(#grain)"><g transform="translate(629 1358.5) scale(0.15022) translate(-20 -50)">
<path d="M1400,300 C1400,283.33 1400,235 1400,200 C1400,165 1400,108.33 1400,90" fill="none" stroke="#b8b8b8" stroke-width="84" stroke-linecap="round" stroke-linejoin="round"/>
<path d="M1410,910 C1410,933.33 1413.33,1001.67 1410,1050 C1406.67,1098.33 1395,1160 1390,1200 C1385,1240 1381.67,1275 1380,1290" fill="none" stroke="#a0a0a0" stroke-width="81" stroke-linecap="round" stroke-linejoin="round"/>
<path d="M1530,625 L1910,583 L1910,655 L1530,697Z" fill="#c4c4c4" filter="url(#bl2)"/>
</g></g>
<g transform="translate(629 1358.5) scale(0.15022) translate(-20 -50)">
<ellipse cx="1385" cy="495" rx="205" ry="200" fill="url(#tOut)" transform="rotate(35 1385 495)"/>
<ellipse cx="1405" cy="472" rx="150" ry="150" fill="url(#tIn)" transform="rotate(35 1405 472)"/>
<circle cx="965" cy="540" r="16" fill="#5a00ff"/>
<ellipse cx="1520" cy="640" rx="60" ry="40" fill="#4a00ff" transform="rotate(-20 1520 640)"/>
</g></g>
<clipPath id="c34"><rect x="926.6" y="1358.5" width="283.6" height="189.3"/></clipPath>
<g clip-path="url(#c34)">
<g filter="url(#fur1)">
<rect x="914.6" y="1346.5" width="307.6" height="213.3" fill="#3a3a3a"/>
<g transform="translate(926.6 1358.5) scale(0.15022) translate(-17 -50)">
<path d="M150,100 C170,58.33 271.67,50 350,40 C428.33,30 571.67,25 620,40 C668.33,55 660,106.67 640,130 C620,153.33 568.33,153.33 500,180 C431.67,206.67 288.33,303.33 230,290 C171.67,276.67 130,141.67 150,100Z" fill="#6a6a6a" filter="url(#bl2)"/>
<path d="M380,40 C383.33,13.33 431.67,16.67 450,40 C468.33,63.33 493.33,153.33 490,180 C486.67,206.67 448.33,223.33 430,200 C411.67,176.67 376.67,66.67 380,40Z" fill="#989898" filter="url(#bl2)"/>
<path d="M1380,40 C1468.33,25 1831.67,0 1910,40 C1988.33,80 1901.67,253.33 1850,280 C1798.33,306.67 1650,203.33 1600,200 C1550,196.67 1586.67,271.67 1550,260 C1513.33,248.33 1408.33,166.67 1380,130 C1351.67,93.33 1291.67,55 1380,40Z" fill="#787878" filter="url(#bl2)"/>
<path d="M250,1320 C175,1268.33 328.33,1046.67 380,1010 C431.67,973.33 485,1060 560,1100 C635,1140 785,1213.33 830,1250 C875,1286.67 926.67,1308.33 830,1320 C733.33,1331.67 325,1371.67 250,1320Z" fill="#6c6c6c" filter="url(#bl2)"/>
<path d="M1600,1320 C1550,1300 1595,1250 1620,1200 C1645,1150 1700,1023.33 1750,1020 C1800,1016.67 1891.67,1130 1920,1180 C1948.33,1230 1973.33,1296.67 1920,1320 C1866.67,1343.33 1650,1340 1600,1320Z" fill="#5e5e5e" filter="url(#bl2)"/>
<path d="M1550,280 C1606.67,241.67 1858.33,203.33 1920,270 C1981.67,336.67 1965,611.67 1920,680 C1875,748.33 1706.67,710 1650,680 C1593.33,650 1596.67,566.67 1580,500 C1563.33,433.33 1493.33,318.33 1550,280Z" fill="#2a2a2a" filter="url(#bl2)"/>
<path d="M1530,1000 C1533.33,931.67 1555,825 1620,790 C1685,755 1870,738.33 1920,790 C1970,841.67 1948.33,1061.67 1920,1100 C1891.67,1138.33 1803.33,1003.33 1750,1020 C1696.67,1036.67 1636.67,1203.33 1600,1200 C1563.33,1196.67 1526.67,1068.33 1530,1000Z" fill="#2a2a2a" filter="url(#bl2)"/>
<path d="M100,640 C100,515 283.33,326.67 450,250 C616.67,173.33 916.67,185 1100,180 C1283.33,175 1466.67,133.33 1550,220 C1633.33,306.67 1591.67,528.33 1600,700 C1608.33,871.67 1683.33,1166.67 1600,1250 C1516.67,1333.33 1291.67,1241.67 1100,1200 C908.33,1158.33 616.67,1093.33 450,1000 C283.33,906.67 100,765 100,640Z" fill="#303030" filter="url(#bl3)"/>
<path d="M120,640 C111.67,590 211.67,540 250,500 C288.33,460 316.67,433.33 350,400 C383.33,366.67 391.67,333.33 450,300 C508.33,266.67 591.67,211.67 700,200 C808.33,188.33 966.67,226.67 1100,230 C1233.33,233.33 1425,208.33 1500,220 C1575,231.67 1540,220 1550,300 C1560,380 1560,553.33 1560,700 C1560,846.67 1576.67,1088.33 1550,1180 C1523.33,1271.67 1475,1255 1400,1250 C1325,1245 1200,1178.33 1100,1150 C1000,1121.67 883.33,1101.67 800,1080 C716.67,1058.33 658.33,1041.67 600,1020 C541.67,998.33 500,986.67 450,950 C400,913.33 355,851.67 300,800 C245,748.33 128.33,690 120,640Z" fill="#232323" filter="url(#bl)"/>
<path d="M120,640 C111.67,590 211.67,540 250,500 C288.33,460 316.67,433.33 350,400 C383.33,366.67 391.67,333.33 450,300 C508.33,266.67 591.67,211.67 700,200 C808.33,188.33 966.67,226.67 1100,230 C1233.33,233.33 1425,208.33 1500,220 C1575,231.67 1540,220 1550,300 C1560,380 1560,553.33 1560,700 C1560,846.67 1576.67,1088.33 1550,1180 C1523.33,1271.67 1475,1255 1400,1250 C1325,1245 1200,1178.33 1100,1150 C1000,1121.67 883.33,1101.67 800,1080 C716.67,1058.33 658.33,1041.67 600,1020 C541.67,998.33 500,986.67 450,950 C400,913.33 355,851.67 300,800 C245,748.33 128.33,690 120,640Z" fill="#000" filter="url(#hair)" opacity="0.6"/>
<path d="M142.06,642.12 C134.15,596.81 229.15,550.89 265.56,516.04 C301.98,481.2 328.9,459.76 360.56,433.08 C392.23,406.39 400.15,377.16 455.56,355.94 C510.98,334.72 590.15,301.41 693.06,305.75 C795.98,310.09 946.4,361.38 1073.06,381.96 C1199.73,402.55 1381.81,413.17 1453.06,429.28 C1524.31,445.4 1491.06,434.91 1500.56,478.66 C1510.06,522.41 1510.06,613.61 1510.06,691.77 C1510.06,769.94 1525.9,894.63 1500.56,947.63 C1475.23,1000.62 1429.31,1002.2 1358.06,1009.76 C1286.81,1017.32 1168.06,997.74 1073.06,993 C978.06,988.25 867.23,987.47 788.06,981.29 C708.9,975.1 653.48,967.61 598.06,955.88 C542.65,944.14 503.06,938.86 455.56,910.88 C408.06,882.89 365.31,832.75 313.06,787.96 C260.81,743.16 149.98,687.44 142.06,642.12Z" fill="#0d0d0d" filter="url(#bl3)" opacity="0.93"/>
<path d="M1150,460 C1200,423.33 1300,405 1350,400 C1400,395 1416.67,413.33 1450,430 C1483.33,446.67 1528.33,468.33 1550,500 C1571.67,531.67 1563.33,586.67 1580,620 C1596.67,653.33 1646.67,670 1650,700 C1653.33,730 1615,766.67 1600,800 C1585,833.33 1571.67,866.67 1560,900 C1548.33,933.33 1536.67,966.67 1530,1000 C1523.33,1033.33 1525,1071.67 1520,1100 C1515,1128.33 1511.67,1165 1500,1170 C1488.33,1175 1483.33,1148.33 1450,1130 C1416.67,1111.67 1358.33,1078.33 1300,1060 C1241.67,1041.67 1153.33,1033.33 1100,1020 C1046.67,1006.67 996.67,1000 980,980 C963.33,960 988.33,930 1000,900 C1011.67,870 1046.67,833.33 1050,800 C1053.33,766.67 1020,730 1020,700 C1020,670 1028.33,660 1050,620 C1071.67,580 1100,496.67 1150,460Z" fill="#dedede" filter="url(#bl)"/>
<path d="M366,261 C372.83,231 424.83,213.17 448,220 C471.17,226.83 501,274.67 505,302 C509,329.33 488.33,367.67 472,384 C455.67,400.33 424.67,420.5 407,400 C389.33,379.5 359.17,291 366,261Z" fill="#747474" filter="url(#bl2)"/>
<path d="M344,833 C338.5,807 368.5,788 385,784 C401.5,780 429.33,791.17 443,809 C456.67,826.83 471.17,869.17 467,891 C462.83,912.83 438.5,949.67 418,940 C397.5,930.33 349.5,859 344,833Z" fill="#747474" filter="url(#bl2)"/>
</g></g>
<g filter="url(#grain)"><g transform="translate(926.6 1358.5) scale(0.15022) translate(-17 -50)">
<path d="M1590,696 L1920,700 L1920,777 L1590,792Z" fill="#d0d0d0" filter="url(#bl2)"/>
</g></g>
<g transform="translate(926.6 1358.5) scale(0.15022) translate(-17 -50)">
<ellipse cx="1468" cy="557" rx="92" ry="92" fill="url(#tOut)" transform="rotate(0 1468 557)"/>
<ellipse cx="1475" cy="552" rx="62" ry="62" fill="url(#tInY)" transform="rotate(0 1475 552)"/>
</g></g>
<text class="b" x="29" y="901" font-size="29.5">E</text>
<text class="m" x="178.5" y="931" font-size="26">UnTx</text>
<text class="m" x="476" y="931" font-size="26">CD4 depletion</text>
<text class="m" x="773" y="931" font-size="26">CD8a depletion</text>
<text class="m" x="1071" y="931" font-size="26">Treated</text>
<text class="m" x="20.5" y="1057" font-size="26" transform="rotate(-90 20.5 1057)">Day 8</text>
<text class="m" x="20.5" y="1252.6" font-size="26" transform="rotate(-90 20.5 1252.6)">Day 10</text>
<text class="m" x="20.5" y="1450.6" font-size="26" transform="rotate(-90 20.5 1450.6)">Day 15</text>
<rect x="1278" y="1169" width="50" height="199.3" fill="url(#cbar)"/>
<text class="m" x="1301.5" y="1152.7" font-size="23">Max</text>
<text class="m" x="1300" y="1398.7" font-size="23">Min</text>
<text class="m" x="1300.8" y="1438.3" font-size="20.25">Radiant Efficiency</text>
<text class="m" x="1300.8" y="1462.8" font-size="20.25">(P/sec/cm<tspan dy="-6" font-size="13">2</tspan><tspan dy="6">/sr)</tspan></text>
<text class="m" x="1300.8" y="1486.7" font-size="20.25">Color Scale</text>
<text class="m" x="1300.8" y="1511.4" font-size="20.25">Min= 8.00e5</text>
<text class="m" x="1300.8" y="1535.9" font-size="20.25">Max= 1.00e7</text>
</g>
<g id="panelF">
<text class="b" x="1381" y="866.5" font-size="29.5">F</text>
<g fill="none" stroke-width="3.4" stroke-linejoin="miter">
<path stroke="#ff0000" d="M1734.04,863.3 H1957.25"/>
<path stroke="#0000ff" d="M1786.56,932.8 H1812.82 V1073.5 M1839.08,1071.8 H1865.34 V1141.3"/>
<path stroke="#a20be8" d="M1786.56,861.6 V1071.8 H1839.08 V1141.3"/>
<path stroke="#333333" d="M1498,863.3 H1734.04 V932.8 H1760.3 V1141.3"/>
</g>
<path d="M1498,834 V1142.85" stroke="#000" stroke-width="3.1" fill="none"/>
<path d="M1485,1141.3 H1958.75" stroke="#000" stroke-width="3.1" fill="none"/>
<path d="M1485,863.3 L1498,863.3" stroke="#000" stroke-width="3.1"/>
<text class="e" x="1481.5" y="871.4" font-size="22.6">100</text>
<path d="M1485,1002.3 L1498,1002.3" stroke="#000" stroke-width="3.1"/>
<text class="e" x="1481.5" y="1010.4" font-size="22.6">50</text>
<text class="e" x="1481.5" y="1149.4" font-size="22.6">0</text>
<path d="M1629,1141.3 L1629,1153.8" stroke="#000" stroke-width="3.1"/>
<text class="m" x="1629" y="1179" font-size="22.6">10</text>
<path d="M1760.3,1141.3 L1760.3,1153.8" stroke="#000" stroke-width="3.1"/>
<text class="m" x="1760.3" y="1179" font-size="22.6">20</text>
<path d="M1891.6,1141.3 L1891.6,1153.8" stroke="#000" stroke-width="3.1"/>
<text class="m" x="1891.6" y="1179" font-size="22.6">30</text>
<text class="m" x="1728" y="1215.5" font-size="24.7">Time (Day)</text>
<text class="m" x="1428.5" y="988.4" font-size="25.2" transform="rotate(-90 1428.5 988.4)">Survival (%)</text>
<path d="M1502,1018.7 H1533.6" stroke="#333333" stroke-width="2.9"/>
<text x="1552.8" y="1025.7" font-size="20.3" letter-spacing="-0.045em">UnTx</text>
<path d="M1502,1043.1 H1533.6" stroke="#a20be8" stroke-width="2.9"/>
<text x="1552.8" y="1050.1" font-size="20.3">CD4 depletion</text>
<path d="M1502,1069.6 H1533.6" stroke="#0000ff" stroke-width="2.9"/>
<text x="1552.8" y="1076.6" font-size="20.3">CD8a depletion</text>
<path d="M1502,1095 H1533.6" stroke="#ff0000" stroke-width="2.9"/>
<text x="1552.8" y="1102" font-size="20.3" letter-spacing="-0.013em">Treated</text>
<path d="M1696.7,1020.5 V1071 M1696.7,1041.8 H1716.2 V1102.7 H1697.5" fill="none" stroke="#000" stroke-width="2.9"/>
<text class="m" x="1720.5" y="1071" font-size="22.5" transform="rotate(90 1720.5 1071)"><tspan class="i">P</tspan> &lt; 0.0001</text>
<text class="m" x="1734" y="1072.4" font-size="36" transform="rotate(90 1734 1072.4)">****</text>
</g>
<g id="panelG">
<text class="b" x="1379.2" y="1235.6" font-size="29.5">G</text>
<g stroke="#ff0000" fill="none">
<path stroke-width="3.1" d="M1514.13,1390.48 V1403.7 M1508.13,1390.48 H1520.13 M1508.13,1403.7 H1520.13"/>
<path stroke-width="3.1" d="M1647.39,1389.27 V1401.29 M1641.39,1389.27 H1653.39 M1641.39,1401.29 H1653.39"/>
<path stroke-width="3.1" d="M1691.81,1382.78 V1400.09 M1685.81,1382.78 H1697.81 M1685.81,1400.09 H1697.81"/>
<path stroke-width="3.1" d="M1736.23,1389.27 V1401.29 M1730.23,1389.27 H1742.23 M1730.23,1401.29 H1742.23"/>
<path stroke-width="3.4" d="M1514.13,1397.21 L1558.55,1394.8 L1602.97,1384.95 L1647.39,1395.28 L1691.81,1391.2 L1736.23,1395.28 L1780.64,1401.29 L1825.06,1411.63 L1869.48,1413.31 L1913.9,1414.99"/>
<circle cx="1514.13" cy="1397.21" r="5.6" fill="#fff" stroke-width="3.4"/>
<circle cx="1558.55" cy="1394.8" r="5.6" fill="#fff" stroke-width="3.4"/>
<circle cx="1602.97" cy="1384.95" r="5.6" fill="#fff" stroke-width="3.4"/>
<circle cx="1647.39" cy="1395.28" r="5.6" fill="#fff" stroke-width="3.4"/>
<circle cx="1691.81" cy="1391.2" r="5.6" fill="#fff" stroke-width="3.4"/>
<circle cx="1736.23" cy="1395.28" r="5.6" fill="#fff" stroke-width="3.4"/>
<circle cx="1780.64" cy="1401.29" r="5.6" fill="#fff" stroke-width="3.4"/>
<circle cx="1825.06" cy="1411.63" r="5.6" fill="#fff" stroke-width="3.4"/>
<circle cx="1869.48" cy="1413.31" r="5.6" fill="#fff" stroke-width="3.4"/>
<circle cx="1913.9" cy="1414.99" r="5.6" fill="#fff" stroke-width="3.4"/>
</g>
<g stroke="#a20be8" fill="none">
<path stroke-width="3.1" d="M1514.13,1381.34 V1425.33 M1508.13,1381.34 H1520.13 M1508.13,1425.33 H1520.13"/>
<path stroke-width="3.1" d="M1558.55,1381.34 V1429.41 M1552.55,1381.34 H1564.55 M1552.55,1429.41 H1564.55"/>
<path stroke-width="3.1" d="M1602.97,1382.06 V1408.5 M1596.97,1382.06 H1608.97 M1596.97,1408.5 H1608.97"/>
<path stroke-width="3.1" d="M1647.39,1384.47 V1434.94 M1641.39,1384.47 H1653.39 M1641.39,1434.94 H1653.39"/>
<path stroke-width="3.1" d="M1691.81,1376.05 V1433.74 M1685.81,1376.05 H1697.81 M1685.81,1433.74 H1697.81"/>
<path stroke-width="3.4" d="M1514.13,1402.97 L1558.55,1404.42 L1602.97,1395.28 L1647.39,1409.7 L1691.81,1404.9 L1736.23,1413.31 L1780.64,1407.3 L1825.06,1396.48 L1869.48,1389.27"/>
<circle cx="1514.13" cy="1402.97" r="5.6" fill="#fff" stroke-width="3.4"/>
<circle cx="1558.55" cy="1404.42" r="5.6" fill="#fff" stroke-width="3.4"/>
<circle cx="1602.97" cy="1395.28" r="5.6" fill="#fff" stroke-width="3.4"/>
<circle cx="1647.39" cy="1409.7" r="5.6" fill="#fff" stroke-width="3.4"/>
<circle cx="1691.81" cy="1404.9" r="5.6" fill="#fff" stroke-width="3.4"/>
<circle cx="1736.23" cy="1413.31" r="5.6" fill="#fff" stroke-width="3.4"/>
<circle cx="1780.64" cy="1407.3" r="5.6" fill="#fff" stroke-width="3.4"/>
<circle cx="1825.06" cy="1396.48" r="5.6" fill="#fff" stroke-width="3.4"/>
<circle cx="1869.48" cy="1389.27" r="5.6" fill="#fff" stroke-width="3.4"/>
</g>
<g stroke="#0000ff" fill="none">
<path stroke-width="3.1" d="M1514.13,1385.19 V1409.7 M1508.13,1385.19 H1520.13 M1508.13,1409.7 H1520.13"/>
<path stroke-width="3.1" d="M1558.55,1404.9 V1420.52 M1552.55,1404.9 H1564.55 M1552.55,1420.52 H1564.55"/>
<path stroke-width="3.1" d="M1602.97,1400.09 V1428.45 M1596.97,1400.09 H1608.97 M1596.97,1428.45 H1608.97"/>
<path stroke-width="3.1" d="M1647.39,1402.97 V1437.11 M1641.39,1402.97 H1653.39 M1641.39,1437.11 H1653.39"/>
<path stroke-width="3.1" d="M1691.81,1396.48 V1437.35 M1685.81,1396.48 H1697.81 M1685.81,1437.35 H1697.81"/>
<path stroke-width="3.1" d="M1736.23,1396.48 V1428.45 M1730.23,1396.48 H1742.23 M1730.23,1428.45 H1742.23"/>
<path stroke-width="3.1" d="M1780.64,1389.27 V1422.92 M1774.64,1389.27 H1786.64 M1774.64,1422.92 H1786.64"/>
<path stroke-width="3.1" d="M1825.06,1382.78 V1416.92 M1819.06,1382.78 H1831.06 M1819.06,1416.92 H1831.06"/>
<path stroke-width="3.1" d="M1869.48,1386.87 V1412.11 M1863.48,1386.87 H1875.48 M1863.48,1412.11 H1875.48"/>
<path stroke-width="3.1" d="M1913.9,1380.14 V1423.65 M1907.9,1380.14 H1919.9 M1907.9,1423.65 H1919.9"/>
<path stroke-width="3.4" d="M1514.13,1397.21 L1558.55,1414.99 L1602.97,1414.03 L1647.39,1418.84 L1691.81,1416.43 L1736.23,1412.11 L1780.64,1406.1 L1825.06,1399.61 L1869.48,1400.09 L1913.9,1402.01"/>
<circle cx="1514.13" cy="1397.21" r="5.6" fill="#fff" stroke-width="3.4"/>
<circle cx="1558.55" cy="1414.99" r="5.6" fill="#fff" stroke-width="3.4"/>
<circle cx="1602.97" cy="1414.03" r="5.6" fill="#fff" stroke-width="3.4"/>
<circle cx="1647.39" cy="1418.84" r="5.6" fill="#fff" stroke-width="3.4"/>
<circle cx="1691.81" cy="1416.43" r="5.6" fill="#fff" stroke-width="3.4"/>
<circle cx="1736.23" cy="1412.11" r="5.6" fill="#fff" stroke-width="3.4"/>
<circle cx="1780.64" cy="1406.1" r="5.6" fill="#fff" stroke-width="3.4"/>
<circle cx="1825.06" cy="1399.61" r="5.6" fill="#fff" stroke-width="3.4"/>
<circle cx="1869.48" cy="1400.09" r="5.6" fill="#fff" stroke-width="3.4"/>
<circle cx="1913.9" cy="1402.01" r="5.6" fill="#fff" stroke-width="3.4"/>
</g>
<g stroke="#333333" fill="none">
<path stroke-width="3.1" d="M1514.13,1391.68 V1424.13 M1508.13,1391.68 H1520.13 M1508.13,1424.13 H1520.13"/>
<path stroke-width="3.1" d="M1558.55,1404.9 V1413.31 M1552.55,1404.9 H1564.55 M1552.55,1413.31 H1564.55"/>
<path stroke-width="3.1" d="M1602.97,1389.27 V1412.11 M1596.97,1389.27 H1608.97 M1596.97,1412.11 H1608.97"/>
<path stroke-width="3.1" d="M1647.39,1390.48 V1427.73 M1641.39,1390.48 H1653.39 M1641.39,1427.73 H1653.39"/>
<path stroke-width="3.1" d="M1691.81,1397.21 V1452.97 M1685.81,1397.21 H1697.81 M1685.81,1452.97 H1697.81"/>
<path stroke-width="3.1" d="M1736.23,1386.15 V1453.45 M1730.23,1386.15 H1742.23 M1730.23,1453.45 H1742.23"/>
<path stroke-width="3.4" d="M1514.13,1407.3 L1558.55,1409.22 L1602.97,1400.57 L1647.39,1409.22 L1691.81,1425.33 L1736.23,1420.04"/>
<circle cx="1514.13" cy="1407.3" r="5.6" fill="#fff" stroke-width="3.4"/>
<circle cx="1558.55" cy="1409.22" r="5.6" fill="#fff" stroke-width="3.4"/>
<circle cx="1602.97" cy="1400.57" r="5.6" fill="#fff" stroke-width="3.4"/>
<circle cx="1647.39" cy="1409.22" r="5.6" fill="#fff" stroke-width="3.4"/>
<circle cx="1691.81" cy="1425.33" r="5.6" fill="#fff" stroke-width="3.4"/>
<circle cx="1736.23" cy="1420.04" r="5.6" fill="#fff" stroke-width="3.4"/>
</g>
<path d="M1485,1246.5 V1555.25" stroke="#000" stroke-width="3.1" fill="none"/>
<path d="M1472,1553.7 H1945.5" stroke="#000" stroke-width="3.1" fill="none"/>
<text class="e" x="1468.3" y="1561.8" font-size="22.6">5</text>
<path d="M1472,1492.64 L1485,1492.64" stroke="#000" stroke-width="3.1"/>
<text class="e" x="1468.3" y="1500.74" font-size="22.6">10</text>
<path d="M1472,1431.58 L1485,1431.58" stroke="#000" stroke-width="3.1"/>
<text class="e" x="1468.3" y="1439.68" font-size="22.6">15</text>
<path d="M1472,1370.52 L1485,1370.52" stroke="#000" stroke-width="3.1"/>
<text class="e" x="1468.3" y="1378.62" font-size="22.6">20</text>
<path d="M1472,1309.46 L1485,1309.46" stroke="#000" stroke-width="3.1"/>
<text class="e" x="1468.3" y="1317.56" font-size="22.6">25</text>
<path d="M1472,1248.4 L1485,1248.4" stroke="#000" stroke-width="3.1"/>
<text class="e" x="1468.3" y="1256.5" font-size="22.6">30</text>
<path d="M1514.13,1553.7 L1514.13,1566.7" stroke="#000" stroke-width="3.1"/>
<text class="m" x="1514.13" y="1590" font-size="22.6">8</text>
<path d="M1558.55,1553.7 L1558.55,1566.7" stroke="#000" stroke-width="3.1"/>
<text class="m" x="1558.55" y="1590" font-size="22.6">10</text>
<path d="M1602.97,1553.7 L1602.97,1566.7" stroke="#000" stroke-width="3.1"/>
<text class="m" x="1602.97" y="1590" font-size="22.6">12</text>
<path d="M1647.39,1553.7 L1647.39,1566.7" stroke="#000" stroke-width="3.1"/>
<text class="m" x="1647.39" y="1590" font-size="22.6">14</text>
<path d="M1691.81,1553.7 L1691.81,1566.7" stroke="#000" stroke-width="3.1"/>
<text class="m" x="1691.81" y="1590" font-size="22.6">16</text>
<path d="M1736.23,1553.7 L1736.23,1566.7" stroke="#000" stroke-width="3.1"/>
<text class="m" x="1736.23" y="1590" font-size="22.6">18</text>
<path d="M1780.64,1553.7 L1780.64,1566.7" stroke="#000" stroke-width="3.1"/>
<text class="m" x="1780.64" y="1590" font-size="22.6">20</text>
<path d="M1825.06,1553.7 L1825.06,1566.7" stroke="#000" stroke-width="3.1"/>
<text class="m" x="1825.06" y="1590" font-size="22.6">22</text>
<path d="M1869.48,1553.7 L1869.48,1566.7" stroke="#000" stroke-width="3.1"/>
<text class="m" x="1869.48" y="1590" font-size="22.6">24</text>
<path d="M1913.9,1553.7 L1913.9,1566.7" stroke="#000" stroke-width="3.1"/>
<text class="m" x="1913.9" y="1590" font-size="22.6">26</text>
<text class="m" x="1714" y="1636.4" font-size="24.8">Time (Day)</text>
<text class="m" x="1428.5" y="1401.4" font-size="25.2" transform="rotate(-90 1428.5 1401.4)">Weight (g)</text>
<g stroke="#333333" stroke-width="3.2"><path d="M1508.2,1252.4 H1539.7"/><circle cx="1523.7" cy="1252.4" r="5.6" fill="#fff"/></g>
<text x="1558.4" y="1260.4" font-size="23" letter-spacing="-0.045em">UnTx</text>
<g stroke="#0000ff" stroke-width="3.2"><path d="M1508.2,1278.7 H1539.7"/><circle cx="1523.7" cy="1278.7" r="5.6" fill="#fff"/></g>
<text x="1558.4" y="1286.7" font-size="23">CD8a depletion</text>
<g stroke="#a20be8" stroke-width="3.2"><path d="M1508.2,1307.4 H1539.7"/><circle cx="1523.7" cy="1307.4" r="5.6" fill="#fff"/></g>
<text x="1558.4" y="1315.4" font-size="23">CD4 depletion</text>
<g stroke="#ff0000" stroke-width="3.2"><path d="M1508.2,1333.4 H1539.7"/><circle cx="1523.7" cy="1333.4" r="5.6" fill="#fff"/></g>
<text x="1558.4" y="1341.4" font-size="23" letter-spacing="-0.013em">Treated</text>
</g>
</svg>
</body>
</html>
